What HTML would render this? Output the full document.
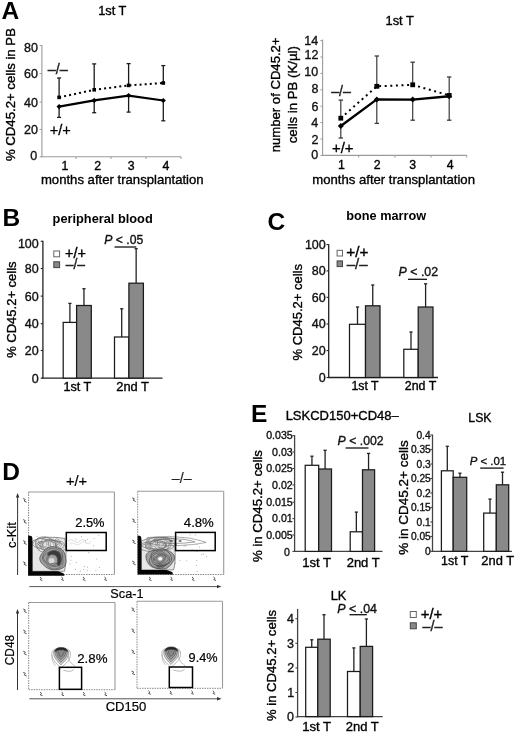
<!DOCTYPE html>
<html><head><meta charset="utf-8"><style>
html,body{margin:0;padding:0;background:#fff;}
svg{display:block;font-family:"Liberation Sans", sans-serif;filter:grayscale(1) blur(0.3px);}
</style></head><body>
<svg width="520" height="734" viewBox="0 0 520 734">
<rect width="520" height="734" fill="#fff"/>
<text x="1.55" y="19.40" font-size="24.50" font-weight="bold" fill="#000">A</text>
<text x="98.15" y="15.40" font-size="12.82" fill="#000" stroke="#000" stroke-width="0.35">1st T</text>
<line x1="41.90" y1="45.00" x2="41.90" y2="157.30" stroke="#9a9a9a" stroke-width="1.1" />
<line x1="41.40" y1="156.80" x2="181.20" y2="156.80" stroke="#9a9a9a" stroke-width="1.1" />
<line x1="39.70" y1="156.80" x2="41.90" y2="156.80" stroke="#9a9a9a" stroke-width="1" />
<text x="30.30" y="160.20" font-size="12.50" fill="#111" stroke="#111" stroke-width="0.35">0</text>
<line x1="39.70" y1="129.40" x2="41.90" y2="129.40" stroke="#9a9a9a" stroke-width="1" />
<text x="24.10" y="133.50" font-size="12.50" fill="#111" stroke="#111" stroke-width="0.35">20</text>
<line x1="39.70" y1="102.00" x2="41.90" y2="102.00" stroke="#9a9a9a" stroke-width="1" />
<text x="24.10" y="107.20" font-size="12.50" fill="#111" stroke="#111" stroke-width="0.35">40</text>
<line x1="39.70" y1="73.50" x2="41.90" y2="73.50" stroke="#9a9a9a" stroke-width="1" />
<text x="24.10" y="78.40" font-size="12.50" fill="#111" stroke="#111" stroke-width="0.35">60</text>
<line x1="39.70" y1="45.50" x2="41.90" y2="45.50" stroke="#9a9a9a" stroke-width="1" />
<text x="24.10" y="51.50" font-size="12.50" fill="#111" stroke="#111" stroke-width="0.35">80</text>
<line x1="76.00" y1="156.80" x2="76.00" y2="159.00" stroke="#9a9a9a" stroke-width="1" />
<line x1="111.00" y1="156.80" x2="111.00" y2="159.00" stroke="#9a9a9a" stroke-width="1" />
<line x1="146.00" y1="156.80" x2="146.00" y2="159.00" stroke="#9a9a9a" stroke-width="1" />
<line x1="181.00" y1="156.80" x2="181.00" y2="159.00" stroke="#9a9a9a" stroke-width="1" />
<text x="61.60" y="169.80" font-size="12.30" fill="#000" stroke="#000" stroke-width="0.35">1</text>
<text x="94.30" y="169.80" font-size="12.30" fill="#000" stroke="#000" stroke-width="0.35">2</text>
<text x="127.70" y="169.80" font-size="12.30" fill="#000" stroke="#000" stroke-width="0.35">3</text>
<text x="162.60" y="169.80" font-size="12.30" fill="#000" stroke="#000" stroke-width="0.35">4</text>
<text x="40.95" y="184.30" font-size="13.13" fill="#000" stroke="#000" stroke-width="0.35">months after transplantation</text>
<text transform="translate(15.30,161.10) rotate(-90)" x="0" y="0" font-size="13.20" fill="#000" stroke="#000" stroke-width="0.35">% CD45.2+ cells in PB</text>
<line x1="59.10" y1="78.00" x2="59.10" y2="97.40" stroke="#1a1a1a" stroke-width="1.3" />
<line x1="57.10" y1="78.00" x2="61.10" y2="78.00" stroke="#1a1a1a" stroke-width="1.3" />
<line x1="59.10" y1="106.60" x2="59.10" y2="117.40" stroke="#1a1a1a" stroke-width="1.3" />
<line x1="57.10" y1="117.40" x2="61.10" y2="117.40" stroke="#1a1a1a" stroke-width="1.3" />
<line x1="94.20" y1="63.90" x2="94.20" y2="89.80" stroke="#1a1a1a" stroke-width="1.3" />
<line x1="92.20" y1="63.90" x2="96.20" y2="63.90" stroke="#1a1a1a" stroke-width="1.3" />
<line x1="94.20" y1="100.40" x2="94.20" y2="112.70" stroke="#1a1a1a" stroke-width="1.3" />
<line x1="92.20" y1="112.70" x2="96.20" y2="112.70" stroke="#1a1a1a" stroke-width="1.3" />
<line x1="128.60" y1="63.60" x2="128.60" y2="85.40" stroke="#1a1a1a" stroke-width="1.3" />
<line x1="126.60" y1="63.60" x2="130.60" y2="63.60" stroke="#1a1a1a" stroke-width="1.3" />
<line x1="128.60" y1="95.60" x2="128.60" y2="112.10" stroke="#1a1a1a" stroke-width="1.3" />
<line x1="126.60" y1="112.10" x2="130.60" y2="112.10" stroke="#1a1a1a" stroke-width="1.3" />
<line x1="163.30" y1="65.60" x2="163.30" y2="83.00" stroke="#1a1a1a" stroke-width="1.3" />
<line x1="161.30" y1="65.60" x2="165.30" y2="65.60" stroke="#1a1a1a" stroke-width="1.3" />
<line x1="163.30" y1="100.50" x2="163.30" y2="120.80" stroke="#1a1a1a" stroke-width="1.3" />
<line x1="161.30" y1="120.80" x2="165.30" y2="120.80" stroke="#1a1a1a" stroke-width="1.3" />
<path d="M59.1,97.4 L94.2,89.8 L128.6,85.4 L163.3,83.0" fill="none" stroke="#000" stroke-width="2.0" stroke-dasharray="2 3.1"/>
<path d="M59.1,106.6 L94.2,100.4 L128.6,95.6 L163.3,100.5" fill="none" stroke="#000" stroke-width="2.2" />
<rect x="57.30" y="95.60" width="3.60" height="3.60" fill="#000" stroke="none" stroke-width="1.0" />
<rect x="92.40" y="88.00" width="3.60" height="3.60" fill="#000" stroke="none" stroke-width="1.0" />
<rect x="126.80" y="83.60" width="3.60" height="3.60" fill="#000" stroke="none" stroke-width="1.0" />
<rect x="161.50" y="81.20" width="3.60" height="3.60" fill="#000" stroke="none" stroke-width="1.0" />
<path d="M56.5,106.6 L59.1,104.0 L61.7,106.6 L59.1,109.19999999999999 Z" fill="#000" stroke="none" stroke-width="1.0" />
<path d="M91.60000000000001,100.4 L94.2,97.80000000000001 L96.8,100.4 L94.2,103.0 Z" fill="#000" stroke="none" stroke-width="1.0" />
<path d="M126.0,95.6 L128.6,93.0 L131.2,95.6 L128.6,98.19999999999999 Z" fill="#000" stroke="none" stroke-width="1.0" />
<path d="M160.70000000000002,100.5 L163.3,97.9 L165.9,100.5 L163.3,103.1 Z" fill="#000" stroke="none" stroke-width="1.0" />
<text x="47.75" y="74.40" font-size="14.46" fill="#222" stroke="#222" stroke-width="0.35">–/–</text>
<text x="49.70" y="134.60" font-size="14.61" fill="#000" stroke="#000" stroke-width="0.3">+/+</text>
<text x="385.55" y="25.30" font-size="12.82" fill="#000" stroke="#000" stroke-width="0.35">1st T</text>
<line x1="322.60" y1="39.50" x2="322.60" y2="155.90" stroke="#9a9a9a" stroke-width="1.1" />
<line x1="322.10" y1="155.40" x2="466.80" y2="155.40" stroke="#9a9a9a" stroke-width="1.1" />
<line x1="320.40" y1="155.40" x2="322.60" y2="155.40" stroke="#9a9a9a" stroke-width="1" />
<text x="311.30" y="159.35" font-size="12.50" fill="#111" stroke="#111" stroke-width="0.35">0</text>
<line x1="320.40" y1="139.00" x2="322.60" y2="139.00" stroke="#9a9a9a" stroke-width="1" />
<text x="311.50" y="143.50" font-size="12.50" fill="#111" stroke="#111" stroke-width="0.35">2</text>
<line x1="320.40" y1="122.60" x2="322.60" y2="122.60" stroke="#9a9a9a" stroke-width="1" />
<text x="311.20" y="127.20" font-size="12.50" fill="#111" stroke="#111" stroke-width="0.35">4</text>
<line x1="320.40" y1="106.20" x2="322.60" y2="106.20" stroke="#9a9a9a" stroke-width="1" />
<text x="311.40" y="110.80" font-size="12.50" fill="#111" stroke="#111" stroke-width="0.35">6</text>
<line x1="320.40" y1="89.80" x2="322.60" y2="89.80" stroke="#9a9a9a" stroke-width="1" />
<text x="311.40" y="92.70" font-size="12.50" fill="#111" stroke="#111" stroke-width="0.35">8</text>
<line x1="320.40" y1="73.40" x2="322.60" y2="73.40" stroke="#9a9a9a" stroke-width="1" />
<text x="304.30" y="76.20" font-size="12.50" fill="#111" stroke="#111" stroke-width="0.35">10</text>
<line x1="320.40" y1="57.00" x2="322.60" y2="57.00" stroke="#9a9a9a" stroke-width="1" />
<text x="304.50" y="59.30" font-size="12.50" fill="#111" stroke="#111" stroke-width="0.35">12</text>
<line x1="320.40" y1="40.60" x2="322.60" y2="40.60" stroke="#9a9a9a" stroke-width="1" />
<text x="304.20" y="44.50" font-size="12.50" fill="#111" stroke="#111" stroke-width="0.35">14</text>
<line x1="358.70" y1="155.40" x2="358.70" y2="157.60" stroke="#9a9a9a" stroke-width="1" />
<line x1="394.90" y1="155.40" x2="394.90" y2="157.60" stroke="#9a9a9a" stroke-width="1" />
<line x1="431.00" y1="155.40" x2="431.00" y2="157.60" stroke="#9a9a9a" stroke-width="1" />
<line x1="466.80" y1="155.40" x2="466.80" y2="157.60" stroke="#9a9a9a" stroke-width="1" />
<text x="338.00" y="168.60" font-size="12.30" fill="#000" stroke="#000" stroke-width="0.35">1</text>
<text x="373.65" y="168.60" font-size="12.30" fill="#000" stroke="#000" stroke-width="0.35">2</text>
<text x="409.30" y="168.60" font-size="12.30" fill="#000" stroke="#000" stroke-width="0.35">3</text>
<text x="446.75" y="168.60" font-size="12.30" fill="#000" stroke="#000" stroke-width="0.35">4</text>
<text x="312.25" y="184.10" font-size="13.13" fill="#000" stroke="#000" stroke-width="0.35">months after transplantation</text>
<text transform="translate(280.40,152.25) rotate(-90)" x="0" y="0" font-size="13.12" fill="#000" stroke="#000" stroke-width="0.35">number of CD45.2+</text>
<text transform="translate(296.60,143.25) rotate(-90)" x="0" y="0" font-size="13.21" fill="#000" stroke="#000" stroke-width="0.35">cells in PB (K/µl)</text>
<line x1="340.80" y1="100.10" x2="340.80" y2="118.20" stroke="#3a3a3a" stroke-width="1.2" />
<line x1="340.80" y1="126.00" x2="340.80" y2="138.00" stroke="#3a3a3a" stroke-width="1.2" />
<line x1="338.60" y1="100.10" x2="343.00" y2="100.10" stroke="#3a3a3a" stroke-width="1.3" />
<line x1="338.60" y1="138.00" x2="343.00" y2="138.00" stroke="#3a3a3a" stroke-width="1.3" />
<line x1="376.80" y1="56.00" x2="376.80" y2="86.30" stroke="#3a3a3a" stroke-width="1.2" />
<line x1="376.80" y1="99.40" x2="376.80" y2="123.40" stroke="#3a3a3a" stroke-width="1.2" />
<line x1="374.60" y1="56.00" x2="379.00" y2="56.00" stroke="#3a3a3a" stroke-width="1.3" />
<line x1="374.60" y1="123.40" x2="379.00" y2="123.40" stroke="#3a3a3a" stroke-width="1.3" />
<line x1="412.70" y1="62.20" x2="412.70" y2="84.80" stroke="#3a3a3a" stroke-width="1.2" />
<line x1="412.70" y1="99.60" x2="412.70" y2="120.20" stroke="#3a3a3a" stroke-width="1.2" />
<line x1="410.50" y1="62.20" x2="414.90" y2="62.20" stroke="#3a3a3a" stroke-width="1.3" />
<line x1="410.50" y1="120.20" x2="414.90" y2="120.20" stroke="#3a3a3a" stroke-width="1.3" />
<line x1="449.20" y1="77.00" x2="449.20" y2="95.40" stroke="#3a3a3a" stroke-width="1.2" />
<line x1="449.20" y1="96.30" x2="449.20" y2="120.20" stroke="#3a3a3a" stroke-width="1.2" />
<line x1="447.00" y1="77.00" x2="451.40" y2="77.00" stroke="#3a3a3a" stroke-width="1.3" />
<line x1="447.00" y1="120.20" x2="451.40" y2="120.20" stroke="#3a3a3a" stroke-width="1.3" />
<path d="M340.8,118.2 L376.8,86.3 L412.7,84.8 L449.2,95.4" fill="none" stroke="#000" stroke-width="2.0" stroke-dasharray="2 3.6"/>
<path d="M340.8,126.0 L376.8,99.4 L412.7,99.6 L449.2,96.3" fill="none" stroke="#000" stroke-width="2.4" />
<rect x="338.40" y="115.80" width="4.80" height="4.80" fill="#000" stroke="none" stroke-width="1.0" />
<rect x="374.40" y="83.90" width="4.80" height="4.80" fill="#000" stroke="none" stroke-width="1.0" />
<rect x="410.30" y="82.40" width="4.80" height="4.80" fill="#000" stroke="none" stroke-width="1.0" />
<rect x="446.80" y="93.00" width="4.80" height="4.80" fill="#000" stroke="none" stroke-width="1.0" />
<path d="M337.8,126.0 L340.8,123.0 L343.8,126.0 L340.8,129.0 Z" fill="#000" stroke="none" stroke-width="1.0" />
<path d="M373.8,99.4 L376.8,96.4 L379.8,99.4 L376.8,102.4 Z" fill="#000" stroke="none" stroke-width="1.0" />
<path d="M409.7,99.6 L412.7,96.6 L415.7,99.6 L412.7,102.6 Z" fill="#000" stroke="none" stroke-width="1.0" />
<path d="M446.2,96.3 L449.2,93.3 L452.2,96.3 L449.2,99.3 Z" fill="#000" stroke="none" stroke-width="1.0" />
<text x="331.15" y="95.50" font-size="14.24" fill="#222" stroke="#222" stroke-width="0.35">–/–</text>
<text x="332.00" y="152.60" font-size="14.91" fill="#000" stroke="#000" stroke-width="0.3">+/+</text>
<text x="2.40" y="226.30" font-size="24.50" font-weight="bold" fill="#000">B</text>
<text x="52.60" y="223.00" font-size="12.79" font-weight="bold" fill="#000">peripheral blood</text>
<line x1="42.90" y1="240.80" x2="42.90" y2="378.70" stroke="#222" stroke-width="1.3" />
<line x1="42.30" y1="378.10" x2="162.50" y2="378.10" stroke="#222" stroke-width="1.3" />
<line x1="40.70" y1="241.30" x2="42.90" y2="241.30" stroke="#222" stroke-width="1.1" />
<text x="17.90" y="247.70" font-size="12.50" fill="#111" stroke="#111" stroke-width="0.35">100</text>
<line x1="40.70" y1="268.50" x2="42.90" y2="268.50" stroke="#222" stroke-width="1.1" />
<text x="24.80" y="272.90" font-size="12.50" fill="#111" stroke="#111" stroke-width="0.35">80</text>
<line x1="40.70" y1="296.10" x2="42.90" y2="296.10" stroke="#222" stroke-width="1.1" />
<text x="24.80" y="300.50" font-size="12.50" fill="#111" stroke="#111" stroke-width="0.35">60</text>
<line x1="40.70" y1="323.70" x2="42.90" y2="323.70" stroke="#222" stroke-width="1.1" />
<text x="24.80" y="328.10" font-size="12.50" fill="#111" stroke="#111" stroke-width="0.35">40</text>
<line x1="40.70" y1="350.50" x2="42.90" y2="350.50" stroke="#222" stroke-width="1.1" />
<text x="24.80" y="354.90" font-size="12.50" fill="#111" stroke="#111" stroke-width="0.35">20</text>
<line x1="40.70" y1="378.10" x2="42.90" y2="378.10" stroke="#222" stroke-width="1.1" />
<text x="31.80" y="382.50" font-size="12.50" fill="#111" stroke="#111" stroke-width="0.35">0</text>
<line x1="69.90" y1="303.40" x2="69.90" y2="322.40" stroke="#222" stroke-width="1.3" />
<line x1="68.30" y1="303.40" x2="71.50" y2="303.40" stroke="#222" stroke-width="1.3" />
<rect x="63.20" y="322.40" width="13.40" height="55.70" fill="#fff" stroke="#1a1a1a" stroke-width="1.25" />
<line x1="83.95" y1="288.70" x2="83.95" y2="305.50" stroke="#222" stroke-width="1.3" />
<line x1="82.35" y1="288.70" x2="85.55" y2="288.70" stroke="#222" stroke-width="1.3" />
<rect x="76.60" y="305.50" width="14.70" height="72.60" fill="#898989" stroke="#1a1a1a" stroke-width="1.25" />
<line x1="121.70" y1="308.80" x2="121.70" y2="337.00" stroke="#222" stroke-width="1.3" />
<line x1="120.10" y1="308.80" x2="123.30" y2="308.80" stroke="#222" stroke-width="1.3" />
<rect x="114.50" y="337.00" width="14.40" height="41.10" fill="#fff" stroke="#1a1a1a" stroke-width="1.25" />
<line x1="136.15" y1="248.70" x2="136.15" y2="283.20" stroke="#222" stroke-width="1.3" />
<line x1="134.55" y1="248.70" x2="137.75" y2="248.70" stroke="#222" stroke-width="1.3" />
<rect x="128.90" y="283.20" width="14.50" height="94.90" fill="#898989" stroke="#1a1a1a" stroke-width="1.25" />
<text transform="translate(16.30,357.85) rotate(-90)" x="0" y="0" font-size="13.01" fill="#000" stroke="#000" stroke-width="0.35">% CD45.2+ cells</text>
<text x="63.45" y="391.30" font-size="12.63" fill="#000" stroke="#000" stroke-width="0.35">1st T</text>
<text x="116.25" y="391.30" font-size="12.90" fill="#000" stroke="#000" stroke-width="0.35">2nd T</text>
<line x1="114.50" y1="247.00" x2="136.30" y2="247.00" stroke="#111" stroke-width="1.3" />
<text x="104.30" y="243.70" font-size="12.18" fill="#111" stroke="#111" stroke-width="0.35"><tspan font-style="italic">P</tspan> &lt; .05</text>
<rect x="53.80" y="251.00" width="5.80" height="5.80" fill="#fff" stroke="#666" stroke-width="1" />
<rect x="53.80" y="261.80" width="5.80" height="5.80" fill="#888" stroke="#444" stroke-width="1" />
<text x="65.00" y="258.30" font-size="14.39" fill="#000" stroke="#000" stroke-width="0.38">+/+</text>
<text x="65.65" y="269.10" font-size="13.96" fill="#222" stroke="#222" stroke-width="0.35">–/–</text>
<text x="267.55" y="229.60" font-size="24.50" font-weight="bold" fill="#000">C</text>
<text x="346.30" y="220.40" font-size="12.71" font-weight="bold" fill="#000">bone marrow</text>
<line x1="328.70" y1="244.20" x2="328.70" y2="378.10" stroke="#222" stroke-width="1.3" />
<line x1="328.10" y1="377.50" x2="438.00" y2="377.50" stroke="#222" stroke-width="1.3" />
<line x1="326.50" y1="244.60" x2="328.70" y2="244.60" stroke="#222" stroke-width="1.1" />
<text x="304.90" y="249.00" font-size="12.50" fill="#111" stroke="#111" stroke-width="0.35">100</text>
<line x1="326.50" y1="270.90" x2="328.70" y2="270.90" stroke="#222" stroke-width="1.1" />
<text x="311.80" y="275.30" font-size="12.50" fill="#111" stroke="#111" stroke-width="0.35">80</text>
<line x1="326.50" y1="297.30" x2="328.70" y2="297.30" stroke="#222" stroke-width="1.1" />
<text x="311.80" y="301.70" font-size="12.50" fill="#111" stroke="#111" stroke-width="0.35">60</text>
<line x1="326.50" y1="324.00" x2="328.70" y2="324.00" stroke="#222" stroke-width="1.1" />
<text x="311.80" y="328.40" font-size="12.50" fill="#111" stroke="#111" stroke-width="0.35">40</text>
<line x1="326.50" y1="350.60" x2="328.70" y2="350.60" stroke="#222" stroke-width="1.1" />
<text x="311.80" y="355.00" font-size="12.50" fill="#111" stroke="#111" stroke-width="0.35">20</text>
<line x1="326.50" y1="377.50" x2="328.70" y2="377.50" stroke="#222" stroke-width="1.1" />
<text x="318.80" y="381.90" font-size="12.50" fill="#111" stroke="#111" stroke-width="0.35">0</text>
<line x1="357.50" y1="307.00" x2="357.50" y2="324.30" stroke="#222" stroke-width="1.3" />
<line x1="355.90" y1="307.00" x2="359.10" y2="307.00" stroke="#222" stroke-width="1.3" />
<rect x="349.50" y="324.30" width="16.00" height="53.20" fill="#fff" stroke="#1a1a1a" stroke-width="1.25" />
<line x1="372.75" y1="285.00" x2="372.75" y2="305.80" stroke="#222" stroke-width="1.3" />
<line x1="371.15" y1="285.00" x2="374.35" y2="285.00" stroke="#222" stroke-width="1.3" />
<rect x="365.50" y="305.80" width="14.50" height="71.70" fill="#898989" stroke="#1a1a1a" stroke-width="1.25" />
<line x1="411.00" y1="332.00" x2="411.00" y2="349.30" stroke="#222" stroke-width="1.3" />
<line x1="409.40" y1="332.00" x2="412.60" y2="332.00" stroke="#222" stroke-width="1.3" />
<rect x="403.80" y="349.30" width="14.40" height="28.20" fill="#fff" stroke="#1a1a1a" stroke-width="1.25" />
<line x1="425.60" y1="283.80" x2="425.60" y2="307.00" stroke="#222" stroke-width="1.3" />
<line x1="424.00" y1="283.80" x2="427.20" y2="283.80" stroke="#222" stroke-width="1.3" />
<rect x="418.20" y="307.00" width="14.80" height="70.50" fill="#898989" stroke="#1a1a1a" stroke-width="1.25" />
<text transform="translate(302.20,360.45) rotate(-90)" x="0" y="0" font-size="13.01" fill="#000" stroke="#000" stroke-width="0.35">% CD45.2+ cells</text>
<text x="351.40" y="390.40" font-size="12.35" fill="#000" stroke="#000" stroke-width="0.35">1st T</text>
<text x="404.80" y="390.40" font-size="12.41" fill="#000" stroke="#000" stroke-width="0.35">2nd T</text>
<line x1="408.00" y1="279.30" x2="427.00" y2="279.30" stroke="#111" stroke-width="1.3" />
<text x="398.60" y="275.80" font-size="12.37" fill="#111" stroke="#111" stroke-width="0.35"><tspan font-style="italic">P</tspan> &lt; .02</text>
<rect x="337.10" y="250.30" width="5.40" height="5.70" fill="#fff" stroke="#666" stroke-width="1" />
<rect x="337.10" y="260.90" width="5.40" height="5.70" fill="#888" stroke="#444" stroke-width="1" />
<text x="346.25" y="257.30" font-size="15.28" fill="#000" stroke="#000" stroke-width="0.38">+/+</text>
<text x="346.75" y="268.60" font-size="15.04" fill="#222" stroke="#222" stroke-width="0.35">–/–</text>
<text x="2.35" y="479.60" font-size="24.50" font-weight="bold" fill="#000">D</text>
<line x1="28.60" y1="492.00" x2="114.40" y2="492.00" stroke="#9a9a9a" stroke-width="1.1" />
<line x1="114.40" y1="492.00" x2="114.40" y2="574.50" stroke="#9a9a9a" stroke-width="1.1" />
<line x1="28.60" y1="492.00" x2="28.60" y2="574.50" stroke="#888" stroke-width="1.0" stroke-dasharray="1.5 1"/>
<line x1="28.60" y1="574.50" x2="114.40" y2="574.50" stroke="#888" stroke-width="1.0" stroke-dasharray="1.5 1"/>
<line x1="137.70" y1="491.30" x2="223.70" y2="491.30" stroke="#9a9a9a" stroke-width="1.1" />
<line x1="223.70" y1="491.30" x2="223.70" y2="574.50" stroke="#9a9a9a" stroke-width="1.1" />
<line x1="137.70" y1="491.30" x2="137.70" y2="574.50" stroke="#888" stroke-width="1.0" stroke-dasharray="1.5 1"/>
<line x1="137.70" y1="574.50" x2="223.70" y2="574.50" stroke="#888" stroke-width="1.0" stroke-dasharray="1.5 1"/>
<line x1="28.70" y1="602.50" x2="115.00" y2="602.50" stroke="#9a9a9a" stroke-width="1.1" />
<line x1="115.00" y1="602.50" x2="115.00" y2="689.70" stroke="#9a9a9a" stroke-width="1.1" />
<line x1="28.70" y1="602.50" x2="28.70" y2="689.70" stroke="#888" stroke-width="1.0" stroke-dasharray="1.5 1"/>
<line x1="28.70" y1="689.70" x2="115.00" y2="689.70" stroke="#888" stroke-width="1.0" stroke-dasharray="1.5 1"/>
<line x1="137.00" y1="601.30" x2="222.50" y2="601.30" stroke="#9a9a9a" stroke-width="1.1" />
<line x1="222.50" y1="601.30" x2="222.50" y2="688.30" stroke="#9a9a9a" stroke-width="1.1" />
<line x1="137.00" y1="601.30" x2="137.00" y2="688.30" stroke="#888" stroke-width="1.0" stroke-dasharray="1.5 1"/>
<line x1="137.00" y1="688.30" x2="222.50" y2="688.30" stroke="#888" stroke-width="1.0" stroke-dasharray="1.5 1"/>
<text x="65.95" y="485.60" font-size="14.69" fill="#000" stroke="#000" stroke-width="0.2">+/+</text>
<text x="171.75" y="482.80" font-size="14.32" fill="#222" stroke="#222" stroke-width="0.2">–/–</text>
<text x="75.25" y="527.20" font-size="12.85" fill="#000" stroke="#000" stroke-width="0.2">2.5%</text>
<text x="183.85" y="527.00" font-size="13.15" fill="#000" stroke="#000" stroke-width="0.2">4.8%</text>
<text x="77.20" y="663.00" font-size="13.31" fill="#000" stroke="#000" stroke-width="0.2">2.8%</text>
<text x="188.60" y="662.00" font-size="12.70" fill="#000" stroke="#000" stroke-width="0.2">9.4%</text>
<text x="110.35" y="598.30" font-size="12.71" fill="#000" stroke="#000" stroke-width="0.2">Sca-1</text>
<text x="105.65" y="711.30" font-size="13.07" fill="#000" stroke="#000" stroke-width="0.2">CD150</text>
<text transform="translate(15.50,548.00) rotate(-90)" x="0" y="0" font-size="12.97" fill="#000" stroke="#000" stroke-width="0.2">c-Kit</text>
<text transform="translate(13.80,665.25) rotate(-90)" x="0" y="0" font-size="11.86" fill="#000" stroke="#000" stroke-width="0.2">CD48</text>
<line x1="17.60" y1="496.00" x2="17.60" y2="575.00" stroke="#333" stroke-width="1" />
<path d="M15.900000000000002,497.5 L17.6,493.0 L19.3,497.5 Z" fill="#333" stroke="none" stroke-width="1.0" />
<line x1="17.50" y1="612.00" x2="17.50" y2="690.00" stroke="#333" stroke-width="1" />
<path d="M15.8,613.5 L17.5,609.0 L19.2,613.5 Z" fill="#333" stroke="none" stroke-width="1.0" />
<line x1="29.40" y1="586.60" x2="218.00" y2="586.60" stroke="#555" stroke-width="1" />
<path d="M217,584.9 L221.5,586.6 L217,588.3000000000001 Z" fill="#333" stroke="none" stroke-width="1.0" />
<line x1="29.40" y1="698.80" x2="218.00" y2="698.80" stroke="#555" stroke-width="1" />
<path d="M217,697.0999999999999 L221.5,698.8 L217,700.5 Z" fill="#333" stroke="none" stroke-width="1.0" />
<path d="M32.3,541 Q40,537.2 47,537.2 Q58,537 65,538.5 L66,552 Q66.5,563 64.5,571.3 L32.3,571.3 Z" fill="#e6e6e6" stroke="#666" stroke-width="0.7"/>
<path d="M64.89,545.00 C65.21,545.66 65.70,546.37 65.70,547.08 C65.70,547.79 65.67,548.68 64.91,549.28 C64.15,549.88 62.60,550.44 61.11,550.70 C59.62,550.96 57.50,550.83 55.96,550.84 C54.42,550.84 53.14,550.63 51.89,550.72 C50.65,550.81 49.76,551.15 48.50,551.36 C47.24,551.57 45.70,551.99 44.36,551.98 C43.01,551.97 41.45,551.70 40.45,551.30 C39.45,550.90 38.92,550.13 38.35,549.58 C37.78,549.03 37.61,548.48 37.01,548.00 C36.41,547.51 35.48,547.16 34.77,546.66 C34.05,546.16 33.05,545.59 32.74,545.00 C32.42,544.41 32.58,543.71 32.89,543.11 C33.21,542.51 34.03,541.98 34.62,541.38 C35.21,540.79 35.68,540.17 36.42,539.54 C37.15,538.91 37.85,538.07 39.05,537.61 C40.25,537.15 42.05,536.73 43.62,536.78 C45.20,536.82 47.17,537.39 48.50,537.88 C49.83,538.38 50.70,539.28 51.61,539.75 C52.52,540.23 52.98,540.53 53.96,540.73 C54.94,540.93 56.25,540.79 57.49,540.94 C58.74,541.09 60.37,541.26 61.42,541.63 C62.46,542.00 63.20,542.59 63.78,543.15 C64.36,543.71 64.57,544.34 64.89,545.00 Z" fill="none" stroke="#555" stroke-width="0.55"/>
<path d="M63.50,545.00 C63.96,545.58 64.29,546.34 63.90,546.90 C63.51,547.47 62.25,548.01 61.15,548.37 C60.04,548.73 58.38,548.82 57.25,549.04 C56.12,549.26 55.27,549.40 54.38,549.70 C53.48,550.00 52.86,550.52 51.88,550.82 C50.90,551.12 49.63,551.49 48.50,551.51 C47.37,551.52 46.04,551.22 45.07,550.90 C44.11,550.59 43.45,550.00 42.72,549.62 C41.98,549.24 41.42,548.93 40.66,548.62 C39.90,548.31 38.88,548.11 38.16,547.75 C37.45,547.40 36.71,546.96 36.37,546.50 C36.02,546.04 36.14,545.51 36.10,545.00 C36.05,544.49 36.17,544.04 36.10,543.47 C36.03,542.90 35.58,542.24 35.67,541.58 C35.77,540.93 35.87,540.05 36.65,539.53 C37.44,539.02 38.97,538.58 40.37,538.50 C41.77,538.43 43.71,538.80 45.06,539.07 C46.41,539.35 47.50,539.91 48.50,540.15 C49.50,540.40 50.16,540.48 51.08,540.55 C52.00,540.63 53.05,540.49 54.01,540.59 C54.97,540.69 56.01,540.88 56.83,541.15 C57.65,541.42 58.22,541.84 58.94,542.22 C59.66,542.60 60.38,542.97 61.14,543.44 C61.90,543.90 63.04,544.42 63.50,545.00 Z" fill="none" stroke="#555" stroke-width="0.55"/>
<path d="M57.21,545.00 C56.82,545.36 56.08,545.60 55.84,545.94 C55.59,546.27 55.69,546.54 55.76,547.00 C55.83,547.45 56.36,548.12 56.25,548.69 C56.13,549.26 55.79,550.02 55.06,550.41 C54.34,550.81 53.01,551.03 51.91,551.06 C50.82,551.10 49.54,550.81 48.50,550.63 C47.46,550.44 46.58,550.18 45.70,549.97 C44.82,549.76 43.93,549.63 43.20,549.37 C42.47,549.11 41.75,548.78 41.33,548.41 C40.91,548.04 40.85,547.55 40.67,547.15 C40.50,546.76 40.57,546.41 40.28,546.05 C40.00,545.69 39.39,545.40 38.97,545.00 C38.55,544.60 37.81,544.08 37.75,543.63 C37.68,543.17 38.01,542.62 38.59,542.28 C39.17,541.93 40.37,541.73 41.23,541.54 C42.09,541.34 43.00,541.31 43.77,541.10 C44.54,540.88 45.04,540.55 45.83,540.25 C46.62,539.95 47.52,539.47 48.50,539.31 C49.48,539.15 50.76,539.12 51.73,539.27 C52.69,539.42 53.57,539.87 54.29,540.23 C55.00,540.59 55.48,541.04 56.01,541.42 C56.55,541.81 57.13,542.14 57.49,542.53 C57.84,542.92 58.19,543.36 58.14,543.77 C58.10,544.18 57.59,544.64 57.21,545.00 Z" fill="none" stroke="#555" stroke-width="0.55"/>
<path d="M55.92,545.00 C55.99,545.34 56.17,545.65 56.32,546.05 C56.47,546.45 56.89,546.96 56.82,547.40 C56.75,547.84 56.48,548.41 55.89,548.69 C55.29,548.98 54.16,549.12 53.25,549.12 C52.35,549.11 51.26,548.82 50.46,548.66 C49.67,548.51 49.11,548.28 48.50,548.19 C47.89,548.10 47.41,548.15 46.83,548.12 C46.25,548.08 45.60,548.10 45.05,547.99 C44.50,547.89 44.01,547.68 43.52,547.49 C43.04,547.30 42.67,547.07 42.13,546.84 C41.60,546.61 40.88,546.40 40.32,546.10 C39.76,545.79 38.99,545.39 38.78,545.00 C38.57,544.61 38.66,544.09 39.06,543.73 C39.45,543.38 40.43,543.10 41.14,542.87 C41.85,542.65 42.71,542.59 43.31,542.41 C43.92,542.22 44.26,542.01 44.77,541.77 C45.27,541.53 45.73,541.15 46.35,540.98 C46.97,540.82 47.81,540.71 48.50,540.76 C49.19,540.81 49.90,541.09 50.49,541.30 C51.07,541.50 51.48,541.78 51.99,541.98 C52.51,542.17 53.05,542.28 53.58,542.46 C54.11,542.64 54.77,542.82 55.15,543.08 C55.53,543.34 55.74,543.69 55.87,544.01 C56.00,544.33 55.84,544.66 55.92,545.00 Z" fill="none" stroke="#555" stroke-width="0.55"/>
<path d="M42.16,545.00 C42.13,545.58 42.20,546.16 42.08,546.68 C41.97,547.20 41.76,547.80 41.48,548.12 C41.19,548.44 40.72,548.43 40.39,548.60 C40.05,548.77 39.81,548.97 39.49,549.16 C39.17,549.34 38.76,549.79 38.45,549.71 C38.13,549.62 37.79,549.07 37.60,548.64 C37.40,548.22 37.48,547.53 37.28,547.16 C37.09,546.78 36.75,546.75 36.45,546.39 C36.14,546.03 35.59,545.54 35.45,545.00 C35.31,544.46 35.45,543.69 35.60,543.14 C35.75,542.59 36.08,542.11 36.37,541.69 C36.66,541.28 36.97,540.77 37.33,540.65 C37.69,540.54 38.20,540.76 38.53,541.01 C38.87,541.25 39.06,541.96 39.34,542.11 C39.61,542.27 39.81,541.99 40.18,541.93 C40.55,541.87 41.21,541.56 41.56,541.78 C41.91,541.99 42.16,542.68 42.27,543.22 C42.37,543.75 42.19,544.42 42.16,545.00 Z" fill="none" stroke="#666" stroke-width="0.5"/>
<path d="M40.69,545.00 C40.71,545.28 40.74,545.68 40.64,545.89 C40.53,546.11 40.22,546.21 40.04,546.31 C39.87,546.42 39.71,546.34 39.59,546.52 C39.46,546.70 39.43,547.13 39.28,547.37 C39.12,547.61 38.86,547.93 38.65,547.96 C38.44,547.99 38.20,547.75 38.01,547.56 C37.83,547.37 37.66,547.11 37.54,546.84 C37.42,546.57 37.28,546.24 37.30,545.93 C37.31,545.62 37.52,545.25 37.63,545.00 C37.74,544.75 37.93,544.67 37.97,544.44 C38.01,544.20 37.86,543.89 37.87,543.58 C37.89,543.27 37.93,542.76 38.06,542.57 C38.20,542.37 38.49,542.39 38.69,542.38 C38.90,542.38 39.09,542.49 39.29,542.53 C39.49,542.57 39.73,542.50 39.91,542.63 C40.09,542.76 40.26,543.03 40.36,543.29 C40.45,543.55 40.43,543.90 40.49,544.19 C40.54,544.47 40.66,544.72 40.69,545.00 Z" fill="none" stroke="#666" stroke-width="0.5"/>
<path d="M48.15,544.00 C48.19,544.51 48.40,545.06 48.35,545.57 C48.30,546.08 48.11,546.69 47.83,547.06 C47.56,547.43 47.07,547.50 46.70,547.79 C46.34,548.09 46.07,548.52 45.66,548.83 C45.25,549.13 44.66,549.71 44.23,549.61 C43.80,549.51 43.31,548.80 43.10,548.24 C42.88,547.67 43.04,546.72 42.95,546.21 C42.86,545.69 42.73,545.51 42.55,545.15 C42.37,544.78 42.00,544.44 41.88,544.00 C41.76,543.56 41.82,543.06 41.84,542.52 C41.86,541.98 41.86,541.37 42.00,540.76 C42.14,540.15 42.31,539.20 42.69,538.87 C43.08,538.53 43.81,538.55 44.28,538.77 C44.75,538.99 45.16,539.87 45.52,540.20 C45.88,540.53 46.10,540.61 46.45,540.76 C46.81,540.92 47.37,540.85 47.65,541.14 C47.93,541.44 48.06,542.05 48.15,542.53 C48.23,543.00 48.12,543.49 48.15,544.00 Z" fill="none" stroke="#666" stroke-width="0.5"/>
<path d="M46.52,544.00 C46.62,544.24 46.83,544.59 46.83,544.86 C46.83,545.13 46.64,545.39 46.50,545.62 C46.36,545.85 46.18,546.02 45.99,546.21 C45.81,546.41 45.61,546.72 45.38,546.79 C45.16,546.86 44.85,546.76 44.64,546.63 C44.42,546.51 44.29,546.18 44.09,546.02 C43.90,545.85 43.66,545.83 43.47,545.65 C43.28,545.48 42.98,545.24 42.94,544.96 C42.91,544.69 43.11,544.26 43.23,544.00 C43.36,543.74 43.62,543.62 43.70,543.39 C43.79,543.17 43.69,542.91 43.74,542.64 C43.78,542.36 43.84,541.97 43.99,541.75 C44.14,541.53 44.40,541.43 44.63,541.31 C44.87,541.19 45.14,541.04 45.41,541.03 C45.67,541.03 46.05,541.05 46.22,541.28 C46.40,541.51 46.45,542.08 46.45,542.43 C46.46,542.79 46.23,543.16 46.25,543.42 C46.26,543.68 46.43,543.76 46.52,544.00 Z" fill="none" stroke="#666" stroke-width="0.5"/>
<path d="M55.26,544.50 C55.31,545.02 55.54,545.61 55.48,546.13 C55.42,546.65 55.17,547.23 54.87,547.60 C54.58,547.97 54.09,548.04 53.72,548.34 C53.36,548.64 53.08,549.13 52.67,549.40 C52.26,549.66 51.66,550.12 51.25,549.95 C50.85,549.78 50.44,548.96 50.25,548.40 C50.06,547.83 50.22,547.01 50.09,546.56 C49.96,546.11 49.70,546.03 49.47,545.68 C49.23,545.34 48.82,544.96 48.68,544.50 C48.54,544.04 48.60,543.49 48.63,542.92 C48.65,542.35 48.66,541.68 48.84,541.09 C49.02,540.50 49.29,539.63 49.70,539.38 C50.12,539.14 50.87,539.34 51.33,539.61 C51.79,539.88 52.13,540.72 52.48,541.00 C52.83,541.28 53.08,541.19 53.44,541.29 C53.81,541.40 54.38,541.33 54.67,541.62 C54.96,541.91 55.06,542.54 55.16,543.02 C55.26,543.50 55.20,543.98 55.26,544.50 Z" fill="none" stroke="#666" stroke-width="0.5"/>
<path d="M53.83,544.50 C53.93,544.77 54.10,545.19 54.04,545.45 C53.98,545.72 53.69,545.94 53.49,546.11 C53.30,546.27 53.06,546.27 52.87,546.44 C52.68,546.62 52.58,547.00 52.37,547.17 C52.15,547.34 51.82,547.55 51.59,547.48 C51.36,547.42 51.14,547.03 50.98,546.78 C50.82,546.53 50.73,546.23 50.63,545.98 C50.53,545.73 50.39,545.51 50.37,545.26 C50.34,545.02 50.45,544.73 50.50,544.50 C50.54,544.27 50.64,544.14 50.63,543.86 C50.61,543.57 50.40,543.16 50.41,542.78 C50.42,542.41 50.51,541.81 50.70,541.61 C50.90,541.41 51.33,541.49 51.60,541.57 C51.87,541.65 52.11,541.97 52.33,542.12 C52.55,542.27 52.75,542.31 52.91,542.47 C53.08,542.63 53.22,542.86 53.31,543.09 C53.40,543.31 53.37,543.58 53.45,543.82 C53.54,544.06 53.74,544.23 53.83,544.50 Z" fill="none" stroke="#666" stroke-width="0.5"/>
<path d="M61.28,544.00 C61.45,544.50 61.45,545.31 61.28,545.79 C61.11,546.27 60.57,546.51 60.28,546.86 C59.98,547.21 59.78,547.53 59.50,547.89 C59.22,548.25 58.93,548.87 58.59,549.01 C58.25,549.15 57.78,548.94 57.44,548.73 C57.10,548.52 56.85,548.06 56.56,547.75 C56.27,547.44 55.90,547.27 55.71,546.88 C55.52,546.49 55.40,545.89 55.42,545.41 C55.44,544.93 55.79,544.45 55.83,544.00 C55.86,543.55 55.71,543.28 55.61,542.69 C55.51,542.11 55.14,541.12 55.21,540.49 C55.29,539.87 55.68,539.18 56.05,538.94 C56.42,538.69 57.00,538.94 57.42,539.03 C57.83,539.11 58.20,539.24 58.53,539.47 C58.86,539.69 59.19,540.00 59.38,540.40 C59.58,540.80 59.55,541.47 59.69,541.87 C59.83,542.26 59.97,542.43 60.23,542.78 C60.49,543.14 61.10,543.50 61.28,544.00 Z" fill="none" stroke="#666" stroke-width="0.5"/>
<path d="M59.14,544.00 C59.11,544.25 59.22,544.40 59.26,544.69 C59.30,544.98 59.42,545.43 59.37,545.73 C59.32,546.03 59.13,546.30 58.96,546.49 C58.79,546.69 58.56,546.81 58.34,546.89 C58.12,546.97 57.84,547.10 57.65,546.97 C57.46,546.85 57.26,546.46 57.17,546.15 C57.08,545.84 57.17,545.37 57.11,545.12 C57.05,544.87 56.94,544.84 56.81,544.65 C56.67,544.46 56.37,544.26 56.29,544.00 C56.21,543.74 56.28,543.36 56.35,543.10 C56.43,542.84 56.62,542.66 56.75,542.42 C56.87,542.18 56.95,541.86 57.11,541.68 C57.26,541.49 57.49,541.31 57.68,541.29 C57.88,541.28 58.09,541.50 58.28,541.59 C58.48,541.67 58.65,541.71 58.84,541.81 C59.03,541.92 59.32,541.98 59.42,542.21 C59.52,542.44 59.50,542.91 59.46,543.20 C59.41,543.50 59.18,543.75 59.14,544.00 Z" fill="none" stroke="#666" stroke-width="0.5"/>
<path d="M65.64,558.50 C65.81,559.89 66.21,561.43 65.95,562.85 C65.68,564.27 65.07,565.96 64.06,567.01 C63.05,568.06 61.32,568.69 59.90,569.14 C58.49,569.60 56.97,569.65 55.56,569.74 C54.16,569.83 52.77,569.92 51.45,569.67 C50.13,569.42 48.82,568.86 47.65,568.22 C46.48,567.58 45.49,566.72 44.43,565.81 C43.37,564.90 42.06,563.99 41.28,562.77 C40.50,561.55 39.74,559.92 39.74,558.50 C39.75,557.08 40.59,555.50 41.33,554.25 C42.07,553.00 43.20,552.01 44.19,551.00 C45.18,549.98 46.09,548.88 47.28,548.16 C48.47,547.43 49.94,546.82 51.32,546.64 C52.71,546.46 54.22,546.80 55.60,547.09 C56.97,547.38 58.33,547.77 59.59,548.38 C60.84,548.99 62.21,549.75 63.10,550.77 C63.99,551.79 64.51,553.22 64.94,554.50 C65.36,555.79 65.47,557.11 65.64,558.50 Z" fill="#a0a0a0" stroke="#444" stroke-width="0.7"/>
<path d="M62.75,558.50 C62.81,559.59 63.23,560.67 63.14,561.83 C63.05,562.99 62.89,564.45 62.23,565.46 C61.57,566.46 60.32,567.27 59.18,567.85 C58.05,568.43 56.70,568.77 55.43,568.92 C54.17,569.07 52.75,569.11 51.60,568.73 C50.45,568.36 49.39,567.44 48.54,566.66 C47.70,565.88 47.26,564.88 46.53,564.06 C45.80,563.23 44.85,562.65 44.17,561.73 C43.49,560.80 42.60,559.63 42.45,558.50 C42.30,557.37 42.79,556.04 43.29,554.97 C43.79,553.90 44.65,552.99 45.45,552.08 C46.24,551.18 47.03,550.17 48.05,549.54 C49.08,548.91 50.40,548.44 51.61,548.32 C52.82,548.19 54.11,548.55 55.30,548.80 C56.49,549.05 57.70,549.31 58.77,549.83 C59.84,550.35 61.07,551.02 61.74,551.93 C62.40,552.85 62.60,554.20 62.77,555.30 C62.93,556.39 62.68,557.41 62.75,558.50 Z" fill="none" stroke="#555" stroke-width="0.65"/>
<path d="M62.08,558.50 C62.02,559.47 61.97,560.39 61.76,561.36 C61.55,562.33 61.41,563.52 60.80,564.32 C60.20,565.12 59.11,565.79 58.14,566.14 C57.17,566.49 55.98,566.40 54.97,566.41 C53.96,566.43 53.00,566.42 52.06,566.24 C51.13,566.05 50.16,565.77 49.37,565.30 C48.57,564.83 47.98,564.11 47.29,563.45 C46.61,562.79 45.89,562.17 45.27,561.35 C44.65,560.52 43.74,559.51 43.57,558.50 C43.40,557.49 43.71,556.19 44.24,555.30 C44.78,554.41 45.95,553.76 46.79,553.15 C47.64,552.55 48.46,552.08 49.34,551.65 C50.21,551.22 51.10,550.73 52.03,550.57 C52.96,550.42 53.99,550.58 54.94,550.74 C55.89,550.91 56.78,551.21 57.71,551.58 C58.63,551.94 59.75,552.27 60.49,552.93 C61.23,553.58 61.87,554.59 62.13,555.51 C62.40,556.44 62.14,557.53 62.08,558.50 Z" fill="none" stroke="#555" stroke-width="0.65"/>
<path d="M60.91,558.50 C61.14,559.28 61.28,560.33 61.01,561.10 C60.73,561.86 59.91,562.54 59.26,563.09 C58.60,563.63 57.80,563.98 57.06,564.35 C56.31,564.73 55.58,565.20 54.77,565.36 C53.97,565.51 53.03,565.48 52.24,565.29 C51.45,565.09 50.74,564.60 50.05,564.18 C49.36,563.77 48.65,563.36 48.10,562.80 C47.55,562.25 46.97,561.55 46.74,560.84 C46.51,560.12 46.67,559.26 46.73,558.50 C46.80,557.74 46.99,557.08 47.14,556.30 C47.29,555.52 47.24,554.56 47.63,553.82 C48.01,553.07 48.68,552.22 49.44,551.82 C50.20,551.42 51.30,551.41 52.19,551.42 C53.07,551.43 53.94,551.65 54.73,551.88 C55.52,552.12 56.32,552.39 56.94,552.83 C57.57,553.28 58.03,553.94 58.47,554.54 C58.92,555.13 59.20,555.73 59.61,556.39 C60.01,557.05 60.67,557.72 60.91,558.50 Z" fill="none" stroke="#555" stroke-width="0.65"/>
<path d="M58.72,558.50 C58.90,559.09 59.27,559.84 59.19,560.47 C59.11,561.10 58.73,561.83 58.26,562.29 C57.80,562.76 57.03,563.02 56.40,563.28 C55.77,563.53 55.13,563.73 54.48,563.80 C53.84,563.88 53.13,563.89 52.53,563.73 C51.93,563.56 51.39,563.15 50.88,562.82 C50.36,562.48 49.92,562.13 49.46,561.72 C49.00,561.31 48.41,560.89 48.13,560.36 C47.86,559.82 47.76,559.10 47.82,558.50 C47.89,557.90 48.28,557.34 48.53,556.78 C48.77,556.22 48.95,555.67 49.27,555.13 C49.59,554.58 49.94,553.89 50.47,553.51 C51.00,553.13 51.78,552.92 52.45,552.86 C53.12,552.80 53.85,553.00 54.49,553.17 C55.13,553.34 55.78,553.55 56.29,553.90 C56.80,554.25 57.25,554.77 57.55,555.27 C57.85,555.77 57.88,556.38 58.07,556.92 C58.27,557.46 58.53,557.91 58.72,558.50 Z" fill="none" stroke="#555" stroke-width="0.65"/>
<path d="M48,553 Q53,548.5 59,552 Q63,557 60,565 Q58,567 57,564 Q59,558 55,555 Q51,553.5 48,556 Z" fill="#3a3a3a" stroke="#555" stroke-width="0.8"/>
<ellipse cx="51.5" cy="560.5" rx="3" ry="2.6" fill="#d8d8d8"/>
<path d="M28.1,535.5 L31.5,536 L32.4,538 L32.4,571.3 L58.0,571.3 L63.5,573.3 L64.5,575.7 L28.1,575.7 Z" fill="#050505"/>
<rect x="75.9" y="562.2" width="0.8" height="0.8" fill="#888"/>
<rect x="86.9" y="569.8" width="0.8" height="0.8" fill="#888"/>
<rect x="83.4" y="569.0" width="0.8" height="0.8" fill="#888"/>
<rect x="96.4" y="558.7" width="0.8" height="0.8" fill="#888"/>
<rect x="93.7" y="538.3" width="0.8" height="0.8" fill="#888"/>
<rect x="66.0" y="543.4" width="0.8" height="0.8" fill="#888"/>
<rect x="70.8" y="555.8" width="0.8" height="0.8" fill="#888"/>
<rect x="85.0" y="540.1" width="0.8" height="0.8" fill="#888"/>
<rect x="87.0" y="539.3" width="0.8" height="0.8" fill="#888"/>
<rect x="75.5" y="538.8" width="0.8" height="0.8" fill="#888"/>
<rect x="98.9" y="567.2" width="0.8" height="0.8" fill="#888"/>
<rect x="70.5" y="559.8" width="0.8" height="0.8" fill="#888"/>
<rect x="80.2" y="570.7" width="0.8" height="0.8" fill="#888"/>
<rect x="93.2" y="545.4" width="0.8" height="0.8" fill="#888"/>
<rect x="45.3" y="536.5" width="0.8" height="0.8" fill="#888"/>
<rect x="88.4" y="552.3" width="0.8" height="0.8" fill="#888"/>
<rect x="81.1" y="536.2" width="0.8" height="0.8" fill="#888"/>
<rect x="98.4" y="534.9" width="0.8" height="0.8" fill="#888"/>
<rect x="84.0" y="566.1" width="0.8" height="0.8" fill="#888"/>
<rect x="36.6" y="535.8" width="0.8" height="0.8" fill="#888"/>
<rect x="95.5" y="569.8" width="0.8" height="0.8" fill="#888"/>
<rect x="69.6" y="563.5" width="0.8" height="0.8" fill="#888"/>
<rect x="87.0" y="566.7" width="0.8" height="0.8" fill="#888"/>
<rect x="75.1" y="568.9" width="0.8" height="0.8" fill="#888"/>
<path d="M68,541 q3,-3 6,0 t6,0 t6,1 t5,-1" fill="none" stroke="#c8c8c8" stroke-width="0.6"/>
<path d="M69,544 q3,-2 6,0 t6,-1 t6,1" fill="none" stroke="#d0d0d0" stroke-width="0.6"/>
<path d="M141.39999999999998,541 Q149.1,537.2 156.1,537.2 Q167.1,537 174.1,538.5 L175.1,552 Q175.6,563 173.6,569.9 L141.39999999999998,569.9 Z" fill="#e6e6e6" stroke="#666" stroke-width="0.7"/>
<path d="M172.34,545.00 C172.83,545.58 173.67,546.32 173.54,546.93 C173.40,547.53 172.56,548.22 171.54,548.63 C170.51,549.05 168.68,549.21 167.41,549.43 C166.14,549.65 164.96,549.68 163.92,549.95 C162.89,550.21 162.24,550.67 161.18,551.04 C160.13,551.41 158.92,551.96 157.60,552.16 C156.28,552.37 154.68,552.38 153.28,552.28 C151.88,552.18 150.58,551.83 149.22,551.56 C147.86,551.28 146.46,551.01 145.13,550.63 C143.80,550.25 142.09,549.85 141.23,549.27 C140.38,548.68 139.75,547.84 140.00,547.13 C140.26,546.42 141.66,545.58 142.77,545.00 C143.87,544.42 145.74,544.08 146.64,543.67 C147.54,543.26 147.92,543.03 148.18,542.54 C148.44,542.06 147.94,541.37 148.20,540.75 C148.45,540.14 148.87,539.33 149.73,538.84 C150.58,538.35 152.02,538.04 153.34,537.81 C154.65,537.59 156.14,537.59 157.60,537.52 C159.06,537.44 160.60,537.33 162.12,537.38 C163.64,537.44 165.46,537.50 166.74,537.85 C168.01,538.21 169.16,538.87 169.76,539.51 C170.36,540.14 170.20,541.03 170.34,541.68 C170.48,542.33 170.27,542.87 170.60,543.43 C170.94,543.98 171.85,544.42 172.34,545.00 Z" fill="none" stroke="#555" stroke-width="0.55"/>
<path d="M169.31,545.00 C168.92,545.51 168.86,545.89 168.75,546.38 C168.64,546.87 168.95,547.46 168.64,547.94 C168.33,548.43 167.70,548.96 166.88,549.28 C166.05,549.60 164.74,549.73 163.70,549.87 C162.65,550.02 161.61,550.03 160.60,550.16 C159.58,550.30 158.67,550.56 157.60,550.68 C156.53,550.80 155.26,550.98 154.18,550.89 C153.10,550.81 152.00,550.50 151.12,550.18 C150.25,549.86 149.73,549.36 148.93,549.00 C148.13,548.64 147.34,548.37 146.33,548.00 C145.32,547.64 143.76,547.32 142.87,546.82 C141.99,546.32 141.02,545.61 141.03,545.00 C141.05,544.39 141.97,543.66 142.97,543.19 C143.98,542.72 145.84,542.45 147.06,542.19 C148.28,541.93 149.42,541.86 150.31,541.63 C151.19,541.41 151.64,541.09 152.38,540.83 C153.11,540.56 153.84,540.21 154.71,540.02 C155.58,539.84 156.60,539.80 157.60,539.73 C158.60,539.66 159.55,539.67 160.73,539.61 C161.91,539.55 163.26,539.34 164.66,539.35 C166.06,539.36 167.95,539.36 169.13,539.68 C170.32,539.99 171.43,540.62 171.76,541.23 C172.09,541.83 171.54,542.70 171.13,543.33 C170.73,543.96 169.71,544.49 169.31,545.00 Z" fill="none" stroke="#555" stroke-width="0.55"/>
<path d="M166.52,545.00 C166.59,545.38 166.85,545.79 166.72,546.16 C166.59,546.54 166.18,546.91 165.75,547.24 C165.32,547.57 164.66,547.80 164.15,548.12 C163.63,548.44 163.24,548.80 162.65,549.16 C162.05,549.53 161.43,550.05 160.59,550.32 C159.75,550.58 158.57,550.78 157.60,550.73 C156.63,550.68 155.58,550.32 154.76,550.04 C153.94,549.77 153.41,549.33 152.67,549.07 C151.92,548.81 151.17,548.69 150.28,548.48 C149.40,548.27 148.12,548.14 147.36,547.81 C146.60,547.49 145.86,546.98 145.74,546.51 C145.61,546.04 146.14,545.44 146.62,545.00 C147.09,544.56 148.03,544.20 148.58,543.85 C149.14,543.50 149.52,543.22 149.94,542.90 C150.36,542.57 150.59,542.19 151.10,541.90 C151.60,541.62 152.28,541.37 152.97,541.19 C153.66,541.00 154.47,540.97 155.24,540.81 C156.01,540.64 156.68,540.45 157.60,540.21 C158.52,539.97 159.62,539.52 160.77,539.36 C161.93,539.21 163.51,539.08 164.54,539.27 C165.57,539.47 166.53,540.03 166.93,540.56 C167.34,541.08 167.08,541.87 166.98,542.42 C166.88,542.98 166.41,543.46 166.34,543.89 C166.26,544.32 166.46,544.62 166.52,545.00 Z" fill="none" stroke="#555" stroke-width="0.55"/>
<path d="M165.47,545.00 C165.47,545.36 165.65,545.70 165.64,546.08 C165.62,546.45 165.70,546.92 165.36,547.24 C165.01,547.56 164.31,547.87 163.59,547.99 C162.87,548.12 161.79,548.02 161.04,547.98 C160.29,547.95 159.67,547.76 159.09,547.79 C158.52,547.82 158.18,547.98 157.60,548.14 C157.02,548.30 156.32,548.64 155.59,548.76 C154.85,548.87 153.92,548.91 153.19,548.82 C152.46,548.72 151.80,548.45 151.20,548.20 C150.60,547.95 150.09,547.63 149.60,547.31 C149.11,546.98 148.52,546.63 148.28,546.25 C148.04,545.86 147.91,545.38 148.18,545.00 C148.46,544.62 149.25,544.23 149.92,543.97 C150.59,543.71 151.61,543.62 152.20,543.44 C152.79,543.27 153.15,543.18 153.46,542.93 C153.77,542.68 153.76,542.28 154.09,541.96 C154.42,541.64 154.87,541.20 155.46,541.00 C156.04,540.81 156.90,540.76 157.60,540.79 C158.30,540.81 158.99,541.03 159.66,541.16 C160.32,541.29 160.92,541.41 161.60,541.54 C162.27,541.67 163.09,541.74 163.70,541.95 C164.31,542.16 164.95,542.46 165.27,542.79 C165.59,543.12 165.59,543.56 165.62,543.93 C165.65,544.29 165.46,544.64 165.47,545.00 Z" fill="none" stroke="#555" stroke-width="0.55"/>
<path d="M150.74,545.00 C150.90,545.43 150.98,546.04 150.94,546.55 C150.91,547.07 150.72,547.55 150.55,548.08 C150.38,548.61 150.23,549.36 149.92,549.73 C149.62,550.11 149.11,550.41 148.72,550.31 C148.34,550.21 147.93,549.47 147.61,549.14 C147.30,548.81 147.13,548.52 146.82,548.33 C146.51,548.13 146.00,548.27 145.73,547.98 C145.46,547.69 145.22,547.09 145.19,546.59 C145.16,546.09 145.47,545.49 145.55,545.00 C145.63,544.51 145.61,544.15 145.64,543.66 C145.68,543.17 145.61,542.50 145.76,542.05 C145.91,541.61 146.25,541.29 146.55,540.97 C146.84,540.64 147.16,540.39 147.53,540.12 C147.90,539.85 148.38,539.30 148.76,539.36 C149.15,539.41 149.66,539.90 149.85,540.46 C150.04,541.02 149.89,542.13 149.92,542.71 C149.94,543.30 149.87,543.58 150.01,543.96 C150.15,544.34 150.59,544.57 150.74,545.00 Z" fill="none" stroke="#666" stroke-width="0.5"/>
<path d="M149.29,545.00 C149.36,545.24 149.59,545.55 149.61,545.82 C149.63,546.10 149.53,546.43 149.42,546.66 C149.31,546.90 149.12,547.04 148.96,547.23 C148.79,547.42 148.63,547.72 148.43,547.80 C148.23,547.89 147.96,547.87 147.78,547.73 C147.59,547.60 147.48,547.21 147.33,547.01 C147.18,546.81 147.04,546.71 146.88,546.53 C146.72,546.36 146.44,546.20 146.37,545.95 C146.30,545.69 146.37,545.26 146.47,545.00 C146.56,544.74 146.83,544.58 146.93,544.36 C147.03,544.14 147.00,543.95 147.06,543.69 C147.11,543.42 147.13,543.01 147.25,542.79 C147.37,542.56 147.59,542.44 147.79,542.33 C147.98,542.22 148.21,542.14 148.44,542.13 C148.67,542.12 148.99,542.07 149.15,542.26 C149.32,542.46 149.44,542.95 149.45,543.30 C149.46,543.66 149.23,544.11 149.21,544.40 C149.18,544.68 149.22,544.76 149.29,545.00 Z" fill="none" stroke="#666" stroke-width="0.5"/>
<path d="M157.02,544.00 C156.90,544.48 156.95,544.89 156.82,545.27 C156.69,545.66 156.45,545.97 156.25,546.31 C156.04,546.66 155.84,546.87 155.59,547.33 C155.35,547.79 155.18,548.67 154.80,549.08 C154.42,549.49 153.74,549.91 153.31,549.77 C152.88,549.62 152.48,548.74 152.21,548.22 C151.93,547.70 151.89,547.08 151.66,546.64 C151.42,546.19 150.98,545.99 150.79,545.55 C150.61,545.11 150.47,544.49 150.53,544.00 C150.59,543.51 150.98,543.07 151.17,542.63 C151.35,542.19 151.44,541.76 151.64,541.35 C151.84,540.93 152.05,540.36 152.37,540.14 C152.68,539.91 153.17,540.05 153.55,540.01 C153.94,539.97 154.22,540.02 154.66,539.90 C155.11,539.77 155.73,539.21 156.23,539.26 C156.73,539.30 157.42,539.66 157.64,540.18 C157.87,540.70 157.66,541.74 157.56,542.38 C157.46,543.02 157.14,543.52 157.02,544.00 Z" fill="none" stroke="#666" stroke-width="0.5"/>
<path d="M156.08,544.00 C156.08,544.27 155.91,544.56 155.80,544.80 C155.69,545.03 155.53,545.18 155.40,545.41 C155.28,545.63 155.22,545.97 155.06,546.13 C154.89,546.29 154.63,546.38 154.43,546.37 C154.22,546.36 154.03,546.09 153.82,546.05 C153.61,546.01 153.41,546.13 153.15,546.13 C152.88,546.12 152.42,546.22 152.20,546.04 C151.99,545.87 151.85,545.40 151.84,545.06 C151.84,544.71 152.08,544.30 152.19,544.00 C152.30,543.70 152.38,543.47 152.50,543.25 C152.61,543.03 152.73,542.82 152.88,542.69 C153.03,542.55 153.24,542.57 153.39,542.42 C153.54,542.28 153.61,542.04 153.80,541.80 C153.99,541.56 154.26,541.06 154.51,540.98 C154.77,540.90 155.13,541.07 155.31,541.31 C155.49,541.54 155.51,542.07 155.59,542.39 C155.68,542.70 155.76,542.92 155.84,543.18 C155.92,543.45 156.09,543.73 156.08,544.00 Z" fill="none" stroke="#666" stroke-width="0.5"/>
<path d="M165.64,544.50 C165.70,545.07 165.30,545.86 164.95,546.30 C164.60,546.74 163.92,546.83 163.55,547.14 C163.18,547.45 163.05,547.84 162.75,548.17 C162.45,548.50 162.10,549.04 161.73,549.13 C161.36,549.21 160.89,548.86 160.53,548.66 C160.17,548.46 159.91,548.13 159.57,547.91 C159.23,547.68 158.76,547.63 158.49,547.31 C158.22,546.99 158.04,546.45 157.94,545.98 C157.85,545.51 158.00,545.04 157.91,544.50 C157.82,543.96 157.46,543.41 157.39,542.77 C157.33,542.12 157.23,541.09 157.52,540.64 C157.81,540.19 158.59,540.03 159.10,540.06 C159.62,540.08 160.18,540.65 160.59,540.81 C161.01,540.96 161.25,540.92 161.58,540.99 C161.91,541.06 162.26,541.07 162.56,541.25 C162.86,541.42 163.04,541.77 163.38,542.04 C163.72,542.31 164.22,542.45 164.59,542.87 C164.97,543.28 165.58,543.93 165.64,544.50 Z" fill="none" stroke="#666" stroke-width="0.5"/>
<path d="M163.11,544.50 C163.00,544.77 162.65,544.97 162.48,545.15 C162.31,545.32 162.16,545.33 162.09,545.56 C162.01,545.80 162.12,546.25 162.02,546.55 C161.92,546.85 161.71,547.26 161.49,547.36 C161.28,547.45 160.97,547.24 160.74,547.14 C160.51,547.03 160.31,546.87 160.10,546.73 C159.89,546.58 159.61,546.49 159.46,546.27 C159.32,546.04 159.26,545.67 159.24,545.37 C159.22,545.08 159.32,544.79 159.32,544.50 C159.33,544.21 159.22,543.91 159.26,543.64 C159.30,543.36 159.40,543.00 159.58,542.86 C159.76,542.72 160.12,542.81 160.33,542.78 C160.54,542.75 160.66,542.79 160.85,542.65 C161.03,542.51 161.21,542.07 161.45,541.94 C161.69,541.80 162.06,541.73 162.29,541.85 C162.52,541.96 162.69,542.35 162.84,542.63 C162.98,542.91 163.11,543.23 163.16,543.54 C163.20,543.85 163.22,544.23 163.11,544.50 Z" fill="none" stroke="#666" stroke-width="0.5"/>
<path d="M169.87,544.00 C170.13,544.52 170.69,545.35 170.72,545.98 C170.76,546.61 170.43,547.41 170.09,547.77 C169.75,548.12 169.10,548.03 168.68,548.10 C168.26,548.17 167.94,548.21 167.59,548.20 C167.25,548.19 166.91,548.22 166.62,548.04 C166.34,547.86 166.15,547.37 165.90,547.11 C165.65,546.85 165.44,546.72 165.12,546.49 C164.81,546.25 164.22,546.11 163.99,545.70 C163.77,545.28 163.69,544.52 163.77,544.00 C163.85,543.48 164.30,543.05 164.48,542.57 C164.65,542.09 164.67,541.65 164.81,541.12 C164.95,540.58 165.03,539.71 165.32,539.36 C165.60,539.01 166.13,538.95 166.51,539.02 C166.89,539.08 167.27,539.54 167.60,539.76 C167.93,539.99 168.25,540.09 168.49,540.38 C168.74,540.68 168.95,541.12 169.06,541.54 C169.17,541.95 169.03,542.46 169.16,542.88 C169.30,543.29 169.61,543.48 169.87,544.00 Z" fill="none" stroke="#666" stroke-width="0.5"/>
<path d="M168.92,544.00 C168.85,544.30 168.62,544.51 168.53,544.78 C168.45,545.06 168.48,545.35 168.40,545.64 C168.32,545.92 168.23,546.36 168.06,546.49 C167.89,546.63 167.58,546.51 167.39,546.43 C167.19,546.34 167.03,546.07 166.87,545.97 C166.70,545.87 166.55,545.92 166.39,545.84 C166.24,545.75 166.08,545.62 165.95,545.44 C165.83,545.27 165.78,545.03 165.65,544.79 C165.53,544.55 165.29,544.32 165.17,544.00 C165.06,543.68 164.90,543.15 164.98,542.84 C165.06,542.54 165.41,542.27 165.65,542.18 C165.89,542.08 166.23,542.28 166.43,542.26 C166.63,542.24 166.72,542.13 166.87,542.06 C167.03,541.99 167.19,541.82 167.36,541.82 C167.52,541.83 167.67,541.99 167.84,542.08 C168.01,542.18 168.19,542.24 168.38,542.39 C168.56,542.54 168.86,542.72 168.95,542.99 C169.04,543.26 168.99,543.70 168.92,544.00 Z" fill="none" stroke="#666" stroke-width="0.5"/>
<path d="M174.51,558.80 C174.29,560.03 173.28,561.21 172.56,562.30 C171.85,563.39 171.14,564.38 170.23,565.34 C169.31,566.31 168.37,567.45 167.09,568.08 C165.81,568.71 164.06,569.04 162.54,569.13 C161.02,569.22 159.45,568.87 157.97,568.62 C156.49,568.37 155.00,568.13 153.66,567.61 C152.31,567.10 150.91,566.39 149.91,565.52 C148.91,564.64 148.27,563.47 147.65,562.35 C147.04,561.23 146.46,560.05 146.22,558.80 C145.98,557.55 145.69,556.02 146.20,554.84 C146.72,553.65 148.02,552.45 149.30,551.68 C150.58,550.92 152.41,550.66 153.87,550.27 C155.33,549.88 156.63,549.58 158.06,549.35 C159.49,549.12 160.99,548.80 162.45,548.90 C163.90,548.99 165.42,549.41 166.79,549.92 C168.17,550.43 169.50,551.12 170.69,551.96 C171.87,552.79 173.26,553.78 173.90,554.92 C174.53,556.06 174.74,557.57 174.51,558.80 Z" fill="#a0a0a0" stroke="#444" stroke-width="0.7"/>
<path d="M171.66,558.80 C171.62,559.84 171.23,561.04 170.56,561.89 C169.90,562.75 168.58,563.30 167.66,563.93 C166.73,564.56 165.95,565.02 165.03,565.66 C164.11,566.30 163.28,567.31 162.13,567.78 C160.98,568.25 159.42,568.57 158.12,568.46 C156.82,568.36 155.47,567.73 154.32,567.15 C153.18,566.56 152.05,565.82 151.25,564.96 C150.45,564.10 149.75,563.01 149.54,561.98 C149.32,560.96 149.75,559.79 149.98,558.80 C150.20,557.81 150.59,556.98 150.89,556.02 C151.20,555.06 151.21,553.91 151.81,553.03 C152.41,552.14 153.42,551.19 154.50,550.71 C155.59,550.23 157.07,550.23 158.33,550.13 C159.60,550.02 160.80,550.02 162.07,550.10 C163.34,550.18 164.80,550.18 165.96,550.62 C167.12,551.06 168.23,551.89 169.03,552.73 C169.83,553.56 170.32,554.64 170.75,555.65 C171.19,556.66 171.69,557.76 171.66,558.80 Z" fill="none" stroke="#444" stroke-width="0.65"/>
<path d="M169.76,558.80 C169.87,559.65 169.50,560.62 169.13,561.47 C168.76,562.31 168.23,563.16 167.53,563.85 C166.84,564.53 165.93,565.22 164.95,565.55 C163.98,565.88 162.74,565.83 161.71,565.82 C160.68,565.81 159.76,565.59 158.76,565.48 C157.77,565.37 156.67,565.45 155.73,565.15 C154.79,564.84 153.73,564.32 153.13,563.66 C152.53,563.01 152.36,562.02 152.12,561.21 C151.88,560.40 151.78,559.63 151.68,558.80 C151.57,557.97 151.30,557.04 151.51,556.21 C151.71,555.37 152.25,554.47 152.92,553.79 C153.59,553.11 154.57,552.59 155.51,552.14 C156.44,551.68 157.48,551.19 158.53,551.05 C159.58,550.91 160.86,550.97 161.81,551.31 C162.76,551.64 163.53,552.48 164.24,553.05 C164.96,553.63 165.42,554.18 166.12,554.73 C166.82,555.27 167.84,555.66 168.44,556.34 C169.05,557.02 169.64,557.95 169.76,558.80 Z" fill="none" stroke="#444" stroke-width="0.65"/>
<path d="M168.22,558.80 C168.29,559.50 167.85,560.32 167.44,560.96 C167.03,561.60 166.38,562.14 165.78,562.64 C165.18,563.14 164.57,563.67 163.85,563.98 C163.12,564.29 162.23,564.45 161.42,564.49 C160.62,564.53 159.83,564.33 159.03,564.22 C158.24,564.11 157.42,564.07 156.67,563.82 C155.92,563.56 155.04,563.21 154.54,562.70 C154.04,562.19 153.85,561.40 153.66,560.75 C153.47,560.10 153.50,559.48 153.42,558.80 C153.34,558.12 153.04,557.40 153.16,556.70 C153.27,556.00 153.57,555.16 154.12,554.62 C154.66,554.07 155.61,553.71 156.42,553.43 C157.22,553.15 158.11,553.01 158.94,552.95 C159.78,552.90 160.67,552.90 161.42,553.11 C162.17,553.32 162.83,553.81 163.44,554.20 C164.04,554.60 164.45,555.04 165.05,555.47 C165.64,555.89 166.49,556.21 167.02,556.76 C167.55,557.32 168.15,558.10 168.22,558.80 Z" fill="none" stroke="#444" stroke-width="0.65"/>
<path d="M165.16,558.80 C165.07,559.30 165.11,559.76 164.96,560.22 C164.80,560.68 164.59,561.19 164.24,561.58 C163.90,561.98 163.38,562.29 162.87,562.59 C162.36,562.89 161.81,563.22 161.19,563.40 C160.57,563.58 159.79,563.75 159.16,563.65 C158.52,563.55 157.88,563.16 157.38,562.81 C156.87,562.47 156.55,562.00 156.15,561.59 C155.75,561.18 155.24,560.83 154.96,560.36 C154.67,559.90 154.40,559.31 154.44,558.80 C154.47,558.29 154.87,557.75 155.18,557.30 C155.49,556.86 155.91,556.50 156.31,556.12 C156.70,555.74 157.06,555.32 157.56,555.05 C158.05,554.77 158.67,554.58 159.27,554.47 C159.87,554.36 160.49,554.38 161.15,554.39 C161.80,554.40 162.56,554.35 163.20,554.53 C163.84,554.72 164.61,555.06 164.99,555.50 C165.36,555.95 165.43,556.68 165.45,557.23 C165.48,557.78 165.24,558.30 165.16,558.80 Z" fill="none" stroke="#444" stroke-width="0.65"/>
<path d="M163.92,558.80 C163.85,559.17 163.84,559.51 163.70,559.84 C163.56,560.17 163.35,560.51 163.08,560.78 C162.81,561.05 162.45,561.26 162.09,561.48 C161.73,561.71 161.36,561.98 160.91,562.12 C160.47,562.26 159.90,562.40 159.44,562.34 C158.98,562.27 158.51,561.97 158.14,561.72 C157.78,561.47 157.53,561.14 157.24,560.84 C156.94,560.54 156.57,560.29 156.36,559.95 C156.16,559.61 155.98,559.17 156.01,558.80 C156.04,558.43 156.31,558.04 156.53,557.70 C156.75,557.37 157.03,557.09 157.32,556.82 C157.61,556.54 157.90,556.24 158.27,556.06 C158.64,555.88 159.11,555.79 159.54,555.73 C159.97,555.66 160.40,555.68 160.87,555.68 C161.34,555.68 161.90,555.60 162.37,555.72 C162.84,555.84 163.42,556.07 163.71,556.39 C164.00,556.70 164.07,557.23 164.10,557.64 C164.14,558.04 163.99,558.43 163.92,558.80 Z" fill="none" stroke="#444" stroke-width="0.65"/>
<path d="M151.2,561.8 Q158.2,568.8 168.2,562.8 Q166.2,566.8 158.2,567.8 Z" fill="#555"/>
<ellipse cx="160.2" cy="558.8" rx="2" ry="1.8" fill="#fafafa"/>
<path d="M137.6,535.5 L140.5,536 L141.4,538 L141.4,569.9 L166.7,569.9 L172.2,571.9 L173.2,574.4 L137.6,574.4 Z" fill="#050505"/>
<path d="M147.1,537.5 Q169.1,535 189.1,538 Q205.1,541.5 206.1,542.5 Q194.1,545 179.1,545.5 Q159.1,546 147.1,543 Z" fill="none" stroke="#777" stroke-width="0.6"/>
<path d="M154.1,539 Q171.1,537.5 185.1,539.5 Q195.1,541.5 195.1,542 Q184.1,543.5 171.1,543.5 Q159.1,543 154.1,541.5 Z" fill="none" stroke="#666" stroke-width="0.6"/>
<ellipse cx="171.1" cy="540.8" rx="2" ry="1" fill="#666"/>
<ellipse cx="180.1" cy="541" rx="1.6" ry="0.9" fill="#777"/>
<rect x="195.9" y="565.2" width="0.8" height="0.8" fill="#888"/>
<rect x="176.1" y="543.9" width="0.8" height="0.8" fill="#888"/>
<rect x="175.2" y="562.9" width="0.8" height="0.8" fill="#888"/>
<rect x="191.8" y="549.7" width="0.8" height="0.8" fill="#888"/>
<rect x="179.6" y="559.9" width="0.8" height="0.8" fill="#888"/>
<rect x="196.6" y="544.1" width="0.8" height="0.8" fill="#888"/>
<rect x="196.5" y="560.1" width="0.8" height="0.8" fill="#888"/>
<rect x="199.1" y="546.8" width="0.8" height="0.8" fill="#888"/>
<rect x="196.6" y="550.9" width="0.8" height="0.8" fill="#888"/>
<rect x="185.7" y="545.1" width="0.8" height="0.8" fill="#888"/>
<rect x="206.0" y="556.4" width="0.8" height="0.8" fill="#888"/>
<rect x="203.3" y="553.6" width="0.8" height="0.8" fill="#888"/>
<rect x="186.4" y="560.5" width="0.8" height="0.8" fill="#888"/>
<rect x="196.7" y="571.1" width="0.8" height="0.8" fill="#888"/>
<rect x="183.6" y="545.6" width="0.8" height="0.8" fill="#888"/>
<rect x="182.8" y="537.4" width="0.8" height="0.8" fill="#888"/>
<rect x="201.4" y="554.0" width="0.8" height="0.8" fill="#888"/>
<rect x="176.1" y="539.2" width="0.8" height="0.8" fill="#888"/>
<rect x="189.8" y="534.5" width="0.8" height="0.8" fill="#888"/>
<rect x="194.9" y="534.6" width="0.8" height="0.8" fill="#888"/>
<rect x="184.8" y="545.6" width="0.8" height="0.8" fill="#888"/>
<path d="M52.00,654.73 C50.70,648.23 59.20,647.73 61.20,649.23 C63.20,647.73 71.70,648.23 70.40,654.73 C70.20,661.73 63.20,664.85 60.70,668.60 C59.20,664.85 52.20,661.73 52.00,654.73 Z" fill="none" stroke="#888" stroke-width="0.6"/>
<path d="M53.70,653.60 C52.70,648.60 59.20,648.10 61.20,649.60 C63.20,648.10 69.70,648.60 68.70,653.60 C68.20,659.60 63.20,662.10 60.70,665.10 C59.20,662.10 54.20,659.60 53.70,653.60 Z" fill="#d0d0d0" stroke="#777" stroke-width="0.6"/>
<path d="M55.10,652.70 C54.30,648.90 59.20,648.40 61.20,649.90 C63.20,648.40 68.10,648.90 67.30,652.70 C66.60,657.90 63.20,659.90 60.70,662.30 C59.20,659.90 55.80,657.90 55.10,652.70 Z" fill="#b0b0b0" stroke="#555" stroke-width="0.6"/>
<path d="M56.40,651.90 C55.90,649.30 59.20,648.80 61.20,650.30 C63.20,648.80 66.50,649.30 66.00,651.90 C65.00,656.30 63.20,657.80 60.70,659.60 C59.20,657.80 57.40,656.30 56.40,651.90 Z" fill="#999" stroke="#444" stroke-width="0.6"/>
<path d="M58.00,651.00 C57.50,649.60 59.20,649.10 61.20,650.60 C63.20,649.10 64.90,649.60 64.40,651.00 C63.40,654.60 63.20,655.60 60.70,656.80 C59.20,655.60 59.00,654.60 58.00,651.00 Z" fill="#888" stroke="#444" stroke-width="0.6"/>
<path d="M54.7,651.6 Q56.2,647.1 61.2,647.4 Q66.2,647.1 67.7,651.6 Q64.2,649.4 61.2,649.4 Q58.2,649.4 54.7,651.6 Z" fill="#222" stroke="#333" stroke-width="0.6"/>
<path d="M68.2,655.6 Q69.2,662.6 73.2,664.6 Q75.2,665.6 74.2,666.6" fill="none" stroke="#999" stroke-width="0.6"/>
<path d="M51.7,654.6 Q51.2,660.6 55.2,665.6" fill="none" stroke="#999" stroke-width="0.6"/>
<path d="M63.3,670.2 Q70.55,672.7 73.8,669.7" fill="none" stroke="#999" stroke-width="0.7"/>
<path d="M162.10,654.23 C160.80,647.73 169.30,647.23 171.30,648.73 C173.30,647.23 181.80,647.73 180.50,654.23 C180.30,661.23 173.30,664.35 170.80,668.10 C169.30,664.35 162.30,661.23 162.10,654.23 Z" fill="none" stroke="#888" stroke-width="0.6"/>
<path d="M163.80,653.10 C162.80,648.10 169.30,647.60 171.30,649.10 C173.30,647.60 179.80,648.10 178.80,653.10 C178.30,659.10 173.30,661.60 170.80,664.60 C169.30,661.60 164.30,659.10 163.80,653.10 Z" fill="#d0d0d0" stroke="#777" stroke-width="0.6"/>
<path d="M165.20,652.20 C164.40,648.40 169.30,647.90 171.30,649.40 C173.30,647.90 178.20,648.40 177.40,652.20 C176.70,657.40 173.30,659.40 170.80,661.80 C169.30,659.40 165.90,657.40 165.20,652.20 Z" fill="#b0b0b0" stroke="#555" stroke-width="0.6"/>
<path d="M166.50,651.40 C166.00,648.80 169.30,648.30 171.30,649.80 C173.30,648.30 176.60,648.80 176.10,651.40 C175.10,655.80 173.30,657.30 170.80,659.10 C169.30,657.30 167.50,655.80 166.50,651.40 Z" fill="#999" stroke="#444" stroke-width="0.6"/>
<path d="M168.10,650.50 C167.60,649.10 169.30,648.60 171.30,650.10 C173.30,648.60 175.00,649.10 174.50,650.50 C173.50,654.10 173.30,655.10 170.80,656.30 C169.30,655.10 169.10,654.10 168.10,650.50 Z" fill="#888" stroke="#444" stroke-width="0.6"/>
<path d="M164.8,651.1 Q166.3,646.6 171.3,646.9 Q176.3,646.6 177.8,651.1 Q174.3,648.9 171.3,648.9 Q168.3,648.9 164.8,651.1 Z" fill="#222" stroke="#333" stroke-width="0.6"/>
<path d="M178.3,655.1 Q179.3,662.1 183.3,664.1 Q185.3,665.1 184.3,666.1" fill="none" stroke="#999" stroke-width="0.6"/>
<path d="M161.8,654.1 Q161.3,660.1 165.3,665.1" fill="none" stroke="#999" stroke-width="0.6"/>
<path d="M173.3,670.0 Q180.9,672.5 184.5,669.5" fill="none" stroke="#999" stroke-width="0.7"/>
<rect x="66.30" y="532.50" width="39.90" height="18.00" fill="none" stroke="#000" stroke-width="1.5" />
<rect x="175.60" y="532.40" width="39.60" height="18.20" fill="none" stroke="#000" stroke-width="1.5" />
<rect x="59.40" y="667.30" width="22.20" height="22.00" fill="none" stroke="#000" stroke-width="1.5" />
<rect x="169.30" y="667.00" width="23.20" height="20.50" fill="none" stroke="#000" stroke-width="1.5" />
<path d="M23.1,498.5 l2.2,1 l-1.2,1.5 l2.5,1.2" fill="none" stroke="#444" stroke-width="0.9"/>
<path d="M39.900000000000006,577.0 l1.5,1.2 l-1.2,1.5 l2.2,0.8" fill="none" stroke="#444" stroke-width="0.9"/>
<path d="M23.1,519.6 l2.2,1 l-1.2,1.5 l2.5,1.2" fill="none" stroke="#444" stroke-width="0.9"/>
<path d="M61.400000000000006,577.0 l1.5,1.2 l-1.2,1.5 l2.2,0.8" fill="none" stroke="#444" stroke-width="0.9"/>
<path d="M23.1,540.7 l2.2,1 l-1.2,1.5 l2.5,1.2" fill="none" stroke="#444" stroke-width="0.9"/>
<path d="M82.9,577.0 l1.5,1.2 l-1.2,1.5 l2.2,0.8" fill="none" stroke="#444" stroke-width="0.9"/>
<path d="M23.1,561.8 l2.2,1 l-1.2,1.5 l2.5,1.2" fill="none" stroke="#444" stroke-width="0.9"/>
<path d="M104.4,577.0 l1.5,1.2 l-1.2,1.5 l2.2,0.8" fill="none" stroke="#444" stroke-width="0.9"/>
<path d="M132.2,497.8 l2.2,1 l-1.2,1.5 l2.5,1.2" fill="none" stroke="#444" stroke-width="0.9"/>
<path d="M149.0,577.0 l1.5,1.2 l-1.2,1.5 l2.2,0.8" fill="none" stroke="#444" stroke-width="0.9"/>
<path d="M132.2,518.9 l2.2,1 l-1.2,1.5 l2.5,1.2" fill="none" stroke="#444" stroke-width="0.9"/>
<path d="M170.5,577.0 l1.5,1.2 l-1.2,1.5 l2.2,0.8" fill="none" stroke="#444" stroke-width="0.9"/>
<path d="M132.2,540.0 l2.2,1 l-1.2,1.5 l2.5,1.2" fill="none" stroke="#444" stroke-width="0.9"/>
<path d="M192.0,577.0 l1.5,1.2 l-1.2,1.5 l2.2,0.8" fill="none" stroke="#444" stroke-width="0.9"/>
<path d="M132.2,561.1 l2.2,1 l-1.2,1.5 l2.5,1.2" fill="none" stroke="#444" stroke-width="0.9"/>
<path d="M213.5,577.0 l1.5,1.2 l-1.2,1.5 l2.2,0.8" fill="none" stroke="#444" stroke-width="0.9"/>
<path d="M23.2,609.0 l2.2,1 l-1.2,1.5 l2.5,1.2" fill="none" stroke="#444" stroke-width="0.9"/>
<path d="M40.0,692.2 l1.5,1.2 l-1.2,1.5 l2.2,0.8" fill="none" stroke="#444" stroke-width="0.9"/>
<path d="M23.2,630.1 l2.2,1 l-1.2,1.5 l2.5,1.2" fill="none" stroke="#444" stroke-width="0.9"/>
<path d="M61.5,692.2 l1.5,1.2 l-1.2,1.5 l2.2,0.8" fill="none" stroke="#444" stroke-width="0.9"/>
<path d="M23.2,651.2 l2.2,1 l-1.2,1.5 l2.5,1.2" fill="none" stroke="#444" stroke-width="0.9"/>
<path d="M83.0,692.2 l1.5,1.2 l-1.2,1.5 l2.2,0.8" fill="none" stroke="#444" stroke-width="0.9"/>
<path d="M23.2,672.3 l2.2,1 l-1.2,1.5 l2.5,1.2" fill="none" stroke="#444" stroke-width="0.9"/>
<path d="M104.5,692.2 l1.5,1.2 l-1.2,1.5 l2.2,0.8" fill="none" stroke="#444" stroke-width="0.9"/>
<path d="M131.5,607.8 l2.2,1 l-1.2,1.5 l2.5,1.2" fill="none" stroke="#444" stroke-width="0.9"/>
<path d="M148.3,690.8 l1.5,1.2 l-1.2,1.5 l2.2,0.8" fill="none" stroke="#444" stroke-width="0.9"/>
<path d="M131.5,628.9 l2.2,1 l-1.2,1.5 l2.5,1.2" fill="none" stroke="#444" stroke-width="0.9"/>
<path d="M169.8,690.8 l1.5,1.2 l-1.2,1.5 l2.2,0.8" fill="none" stroke="#444" stroke-width="0.9"/>
<path d="M131.5,650.0 l2.2,1 l-1.2,1.5 l2.5,1.2" fill="none" stroke="#444" stroke-width="0.9"/>
<path d="M191.3,690.8 l1.5,1.2 l-1.2,1.5 l2.2,0.8" fill="none" stroke="#444" stroke-width="0.9"/>
<path d="M131.5,671.0999999999999 l2.2,1 l-1.2,1.5 l2.5,1.2" fill="none" stroke="#444" stroke-width="0.9"/>
<path d="M212.8,690.8 l1.5,1.2 l-1.2,1.5 l2.2,0.8" fill="none" stroke="#444" stroke-width="0.9"/>
<text x="251.05" y="421.60" font-size="24.50" font-weight="bold" fill="#000">E</text>
<text x="285.65" y="419.80" font-size="13.01" fill="#000" stroke="#000" stroke-width="0.35">LSKCD150+CD48–</text>
<line x1="294.60" y1="435.20" x2="294.60" y2="552.00" stroke="#444" stroke-width="1.3" />
<line x1="294.00" y1="551.40" x2="382.50" y2="551.40" stroke="#444" stroke-width="1.3" />
<line x1="292.40" y1="435.60" x2="294.60" y2="435.60" stroke="#444" stroke-width="1.1" />
<text x="266.20" y="439.40" font-size="10.60" fill="#111" stroke="#111" stroke-width="0.35">0.035</text>
<line x1="292.40" y1="452.00" x2="294.60" y2="452.00" stroke="#444" stroke-width="1.1" />
<text x="272.10" y="455.80" font-size="10.60" fill="#111" stroke="#111" stroke-width="0.35">0.03</text>
<line x1="292.40" y1="468.50" x2="294.60" y2="468.50" stroke="#444" stroke-width="1.1" />
<text x="266.20" y="472.30" font-size="10.60" fill="#111" stroke="#111" stroke-width="0.35">0.025</text>
<line x1="292.40" y1="485.00" x2="294.60" y2="485.00" stroke="#444" stroke-width="1.1" />
<text x="272.10" y="488.80" font-size="10.60" fill="#111" stroke="#111" stroke-width="0.35">0.02</text>
<line x1="292.40" y1="502.20" x2="294.60" y2="502.20" stroke="#444" stroke-width="1.1" />
<text x="266.20" y="506.00" font-size="10.60" fill="#111" stroke="#111" stroke-width="0.35">0.015</text>
<line x1="292.40" y1="518.60" x2="294.60" y2="518.60" stroke="#444" stroke-width="1.1" />
<text x="272.10" y="522.40" font-size="10.60" fill="#111" stroke="#111" stroke-width="0.35">0.01</text>
<line x1="292.40" y1="535.00" x2="294.60" y2="535.00" stroke="#444" stroke-width="1.1" />
<text x="266.20" y="538.80" font-size="10.60" fill="#111" stroke="#111" stroke-width="0.35">0.005</text>
<line x1="292.40" y1="551.40" x2="294.60" y2="551.40" stroke="#444" stroke-width="1.1" />
<text x="283.90" y="556.00" font-size="10.60" fill="#111" stroke="#111" stroke-width="0.35">0</text>
<line x1="311.95" y1="456.20" x2="311.95" y2="465.30" stroke="#222" stroke-width="1.3" />
<line x1="310.35" y1="456.20" x2="313.55" y2="456.20" stroke="#222" stroke-width="1.3" />
<rect x="305.20" y="465.30" width="13.50" height="86.10" fill="#fff" stroke="#1a1a1a" stroke-width="1.25" />
<line x1="325.10" y1="450.30" x2="325.10" y2="469.00" stroke="#222" stroke-width="1.3" />
<line x1="323.50" y1="450.30" x2="326.70" y2="450.30" stroke="#222" stroke-width="1.3" />
<rect x="318.70" y="469.00" width="12.80" height="82.40" fill="#898989" stroke="#1a1a1a" stroke-width="1.25" />
<line x1="356.35" y1="512.10" x2="356.35" y2="531.80" stroke="#222" stroke-width="1.3" />
<line x1="354.75" y1="512.10" x2="357.95" y2="512.10" stroke="#222" stroke-width="1.3" />
<rect x="350.20" y="531.80" width="12.30" height="19.60" fill="#fff" stroke="#1a1a1a" stroke-width="1.25" />
<line x1="368.55" y1="453.40" x2="368.55" y2="469.80" stroke="#222" stroke-width="1.3" />
<line x1="366.95" y1="453.40" x2="370.15" y2="453.40" stroke="#222" stroke-width="1.3" />
<rect x="362.50" y="469.80" width="12.10" height="81.60" fill="#898989" stroke="#1a1a1a" stroke-width="1.25" />
<text transform="translate(262.10,562.05) rotate(-90)" x="0" y="0" font-size="13.21" fill="#000" stroke="#000" stroke-width="0.35">% in CD45.2+ cells</text>
<text x="302.15" y="566.50" font-size="13.15" fill="#000" stroke="#000" stroke-width="0.35">1st T</text>
<text x="346.65" y="566.50" font-size="13.02" fill="#000" stroke="#000" stroke-width="0.35">2nd T</text>
<line x1="345.60" y1="448.00" x2="368.50" y2="448.00" stroke="#111" stroke-width="1.3" />
<text x="337.60" y="444.80" font-size="12.27" fill="#111" stroke="#111" stroke-width="0.35"><tspan font-style="italic">P</tspan> &lt; .002</text>
<text x="468.35" y="421.50" font-size="12.25" fill="#000" stroke="#000" stroke-width="0.35">LSK</text>
<line x1="432.50" y1="434.60" x2="432.50" y2="551.90" stroke="#444" stroke-width="1.3" />
<line x1="431.90" y1="551.30" x2="512.00" y2="551.30" stroke="#444" stroke-width="1.3" />
<line x1="430.30" y1="435.00" x2="432.50" y2="435.00" stroke="#444" stroke-width="1.1" />
<text x="416.40" y="438.60" font-size="10.20" fill="#111" stroke="#111" stroke-width="0.35">0.4</text>
<line x1="430.30" y1="449.50" x2="432.50" y2="449.50" stroke="#444" stroke-width="1.1" />
<text x="410.90" y="453.10" font-size="10.20" fill="#111" stroke="#111" stroke-width="0.35">0.35</text>
<line x1="430.30" y1="464.00" x2="432.50" y2="464.00" stroke="#444" stroke-width="1.1" />
<text x="416.60" y="467.60" font-size="10.20" fill="#111" stroke="#111" stroke-width="0.35">0.3</text>
<line x1="430.30" y1="478.50" x2="432.50" y2="478.50" stroke="#444" stroke-width="1.1" />
<text x="410.90" y="482.10" font-size="10.20" fill="#111" stroke="#111" stroke-width="0.35">0.25</text>
<line x1="430.30" y1="493.00" x2="432.50" y2="493.00" stroke="#444" stroke-width="1.1" />
<text x="416.60" y="496.60" font-size="10.20" fill="#111" stroke="#111" stroke-width="0.35">0.2</text>
<line x1="430.30" y1="507.50" x2="432.50" y2="507.50" stroke="#444" stroke-width="1.1" />
<text x="410.90" y="511.10" font-size="10.20" fill="#111" stroke="#111" stroke-width="0.35">0.15</text>
<line x1="430.30" y1="522.00" x2="432.50" y2="522.00" stroke="#444" stroke-width="1.1" />
<text x="416.60" y="525.60" font-size="10.20" fill="#111" stroke="#111" stroke-width="0.35">0.1</text>
<line x1="430.30" y1="536.50" x2="432.50" y2="536.50" stroke="#444" stroke-width="1.1" />
<text x="410.90" y="540.10" font-size="10.20" fill="#111" stroke="#111" stroke-width="0.35">0.05</text>
<line x1="430.30" y1="551.30" x2="432.50" y2="551.30" stroke="#444" stroke-width="1.1" />
<text x="425.00" y="554.90" font-size="10.20" fill="#111" stroke="#111" stroke-width="0.35">0</text>
<line x1="447.30" y1="446.30" x2="447.30" y2="470.80" stroke="#222" stroke-width="1.3" />
<line x1="445.70" y1="446.30" x2="448.90" y2="446.30" stroke="#222" stroke-width="1.3" />
<rect x="441.40" y="470.80" width="11.80" height="80.50" fill="#fff" stroke="#1a1a1a" stroke-width="1.25" />
<line x1="459.95" y1="473.20" x2="459.95" y2="477.30" stroke="#222" stroke-width="1.3" />
<line x1="458.35" y1="473.20" x2="461.55" y2="473.20" stroke="#222" stroke-width="1.3" />
<rect x="453.20" y="477.30" width="13.50" height="74.00" fill="#898989" stroke="#1a1a1a" stroke-width="1.25" />
<line x1="490.00" y1="499.10" x2="490.00" y2="513.10" stroke="#222" stroke-width="1.3" />
<line x1="488.40" y1="499.10" x2="491.60" y2="499.10" stroke="#222" stroke-width="1.3" />
<rect x="483.70" y="513.10" width="12.60" height="38.20" fill="#fff" stroke="#1a1a1a" stroke-width="1.25" />
<line x1="502.50" y1="472.20" x2="502.50" y2="484.80" stroke="#222" stroke-width="1.3" />
<line x1="500.90" y1="472.20" x2="504.10" y2="472.20" stroke="#222" stroke-width="1.3" />
<rect x="496.30" y="484.80" width="12.40" height="66.50" fill="#898989" stroke="#1a1a1a" stroke-width="1.25" />
<text transform="translate(407.70,554.85) rotate(-90)" x="0" y="0" font-size="13.52" fill="#000" stroke="#000" stroke-width="0.35">% in CD45.2+ cells</text>
<text x="441.00" y="565.30" font-size="12.44" fill="#000" stroke="#000" stroke-width="0.35">1st T</text>
<text x="481.35" y="565.30" font-size="12.90" fill="#000" stroke="#000" stroke-width="0.35">2nd T</text>
<line x1="480.20" y1="468.10" x2="503.60" y2="468.10" stroke="#111" stroke-width="1.3" />
<text x="469.70" y="464.90" font-size="11.42" fill="#111" stroke="#111" stroke-width="0.35"><tspan font-style="italic">P</tspan> &lt; .01</text>
<text x="330.65" y="600.30" font-size="12.84" fill="#000" stroke="#000" stroke-width="0.35">LK</text>
<line x1="297.60" y1="608.90" x2="297.60" y2="717.20" stroke="#444" stroke-width="1.3" />
<line x1="297.00" y1="716.60" x2="382.70" y2="716.60" stroke="#444" stroke-width="1.3" />
<line x1="295.40" y1="618.70" x2="297.60" y2="618.70" stroke="#444" stroke-width="1.1" />
<text x="286.90" y="623.10" font-size="12.50" fill="#111" stroke="#111" stroke-width="0.35">4</text>
<line x1="295.40" y1="643.30" x2="297.60" y2="643.30" stroke="#444" stroke-width="1.1" />
<text x="287.10" y="647.70" font-size="12.50" fill="#111" stroke="#111" stroke-width="0.35">3</text>
<line x1="295.40" y1="667.90" x2="297.60" y2="667.90" stroke="#444" stroke-width="1.1" />
<text x="287.20" y="672.30" font-size="12.50" fill="#111" stroke="#111" stroke-width="0.35">2</text>
<line x1="295.40" y1="692.50" x2="297.60" y2="692.50" stroke="#444" stroke-width="1.1" />
<text x="287.20" y="696.90" font-size="12.50" fill="#111" stroke="#111" stroke-width="0.35">1</text>
<line x1="295.40" y1="717.00" x2="297.60" y2="717.00" stroke="#444" stroke-width="1.1" />
<text x="287.00" y="721.40" font-size="12.50" fill="#111" stroke="#111" stroke-width="0.35">0</text>
<line x1="311.75" y1="639.80" x2="311.75" y2="647.30" stroke="#222" stroke-width="1.3" />
<line x1="310.15" y1="639.80" x2="313.35" y2="639.80" stroke="#222" stroke-width="1.3" />
<rect x="305.70" y="647.30" width="12.10" height="69.30" fill="#fff" stroke="#1a1a1a" stroke-width="1.25" />
<line x1="324.00" y1="614.70" x2="324.00" y2="639.20" stroke="#222" stroke-width="1.3" />
<line x1="322.40" y1="614.70" x2="325.60" y2="614.70" stroke="#222" stroke-width="1.3" />
<rect x="317.80" y="639.20" width="12.40" height="77.40" fill="#898989" stroke="#1a1a1a" stroke-width="1.25" />
<line x1="353.85" y1="647.90" x2="353.85" y2="671.50" stroke="#222" stroke-width="1.3" />
<line x1="352.25" y1="647.90" x2="355.45" y2="647.90" stroke="#222" stroke-width="1.3" />
<rect x="347.50" y="671.50" width="12.70" height="45.10" fill="#fff" stroke="#1a1a1a" stroke-width="1.25" />
<line x1="366.40" y1="619.00" x2="366.40" y2="646.40" stroke="#222" stroke-width="1.3" />
<line x1="364.80" y1="619.00" x2="368.00" y2="619.00" stroke="#222" stroke-width="1.3" />
<rect x="360.20" y="646.40" width="12.40" height="70.20" fill="#898989" stroke="#1a1a1a" stroke-width="1.25" />
<text transform="translate(276.20,721.05) rotate(-90)" x="0" y="0" font-size="13.11" fill="#000" stroke="#000" stroke-width="0.35">% in CD45.2+ cells</text>
<text x="302.15" y="730.60" font-size="13.15" fill="#000" stroke="#000" stroke-width="0.35">1st T</text>
<text x="345.75" y="730.60" font-size="13.02" fill="#000" stroke="#000" stroke-width="0.35">2nd T</text>
<line x1="349.50" y1="614.70" x2="366.80" y2="614.70" stroke="#111" stroke-width="1.3" />
<text x="337.30" y="612.70" font-size="12.42" fill="#111" stroke="#111" stroke-width="0.35"><tspan font-style="italic">P</tspan> &lt; .04</text>
<rect x="410.30" y="611.50" width="6.00" height="6.00" fill="#fff" stroke="#666" stroke-width="1" />
<rect x="410.30" y="622.80" width="6.00" height="6.00" fill="#888" stroke="#444" stroke-width="1" />
<text x="420.80" y="619.20" font-size="14.84" fill="#000" stroke="#000" stroke-width="0.38">+/+</text>
<text x="422.40" y="630.80" font-size="14.39" fill="#222" stroke="#222" stroke-width="0.35">–/–</text>
</svg></body></html>
